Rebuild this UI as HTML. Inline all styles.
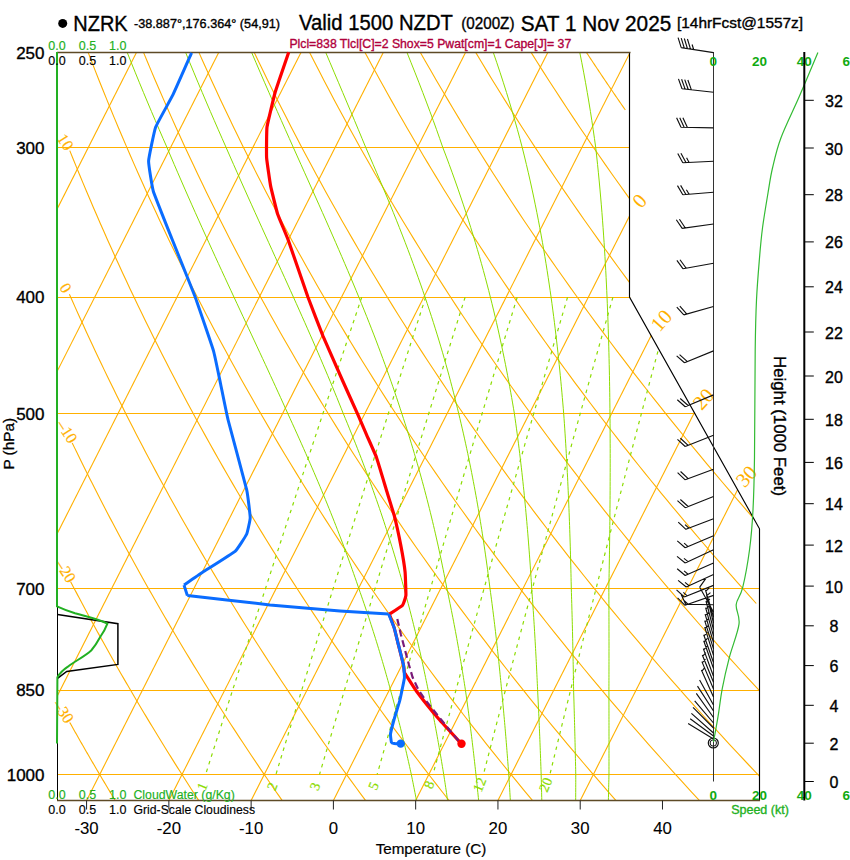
<!DOCTYPE html>
<html><head><meta charset="utf-8"><style>
html,body{margin:0;padding:0;background:#fff;width:850px;height:860px;overflow:hidden;position:relative;font-family:"Liberation Sans",sans-serif}
</style></head><body>
<svg width="850" height="860" viewBox="0 0 850 860" style="position:absolute;left:0;top:0">
<defs><clipPath id="cp"><polygon points="57.00,52.00 630.00,52.00 630.00,297.00 759.50,528.80 759.50,800.40 57.00,800.40"/></clipPath></defs>
<g clip-path="url(#cp)"><line x1="57" y1="52.50" x2="760" y2="52.50" stroke="#FFB000" stroke-width="1"/><line x1="57" y1="147.50" x2="760" y2="147.50" stroke="#FFB000" stroke-width="1"/><line x1="57" y1="297.50" x2="760" y2="297.50" stroke="#FFB000" stroke-width="1"/><line x1="57" y1="413.50" x2="760" y2="413.50" stroke="#FFB000" stroke-width="1"/><line x1="57" y1="588.50" x2="760" y2="588.50" stroke="#FFB000" stroke-width="1"/><line x1="57" y1="690.50" x2="760" y2="690.50" stroke="#FFB000" stroke-width="1"/><line x1="57" y1="774.50" x2="760" y2="774.50" stroke="#FFB000" stroke-width="1"/><line x1="-489.30" y1="800.40" x2="-110.36" y2="52.40" stroke="#FFB000" stroke-width="1.1"/><line x1="-407.03" y1="800.40" x2="-28.09" y2="52.40" stroke="#FFB000" stroke-width="1.1"/><line x1="-324.76" y1="800.40" x2="54.18" y2="52.40" stroke="#FFB000" stroke-width="1.1"/><line x1="-242.49" y1="800.40" x2="136.45" y2="52.40" stroke="#FFB000" stroke-width="1.1"/><line x1="-160.22" y1="800.40" x2="218.72" y2="52.40" stroke="#FFB000" stroke-width="1.1"/><line x1="-77.95" y1="800.40" x2="300.99" y2="52.40" stroke="#FFB000" stroke-width="1.1"/><line x1="4.32" y1="800.40" x2="383.26" y2="52.40" stroke="#FFB000" stroke-width="1.1"/><line x1="86.59" y1="800.40" x2="465.53" y2="52.40" stroke="#FFB000" stroke-width="1.1"/><line x1="168.86" y1="800.40" x2="547.80" y2="52.40" stroke="#FFB000" stroke-width="1.1"/><line x1="251.13" y1="800.40" x2="630.07" y2="52.40" stroke="#FFB000" stroke-width="1.1"/><line x1="333.40" y1="800.40" x2="712.34" y2="52.40" stroke="#FFB000" stroke-width="1.1"/><line x1="415.67" y1="800.40" x2="794.61" y2="52.40" stroke="#FFB000" stroke-width="1.1"/><line x1="497.94" y1="800.40" x2="876.88" y2="52.40" stroke="#FFB000" stroke-width="1.1"/><line x1="580.21" y1="800.40" x2="959.15" y2="52.40" stroke="#FFB000" stroke-width="1.1"/><polyline points="-244.04,52.40 -242.14,61.75 -240.21,71.10 -238.24,80.45 -236.23,89.80 -234.20,99.15 -232.13,108.50 -230.02,117.85 -227.88,127.20 -225.70,136.55 -223.48,145.90 -221.23,155.25 -218.95,164.60 -216.63,173.95 -214.27,183.30 -211.88,192.65 -209.45,202.00 -206.98,211.35 -204.47,220.70 -201.93,230.05 -199.35,239.40 -196.74,248.75 -194.08,258.10 -191.39,267.45 -188.66,276.80 -185.89,286.15 -183.08,295.50 -180.24,304.85 -177.35,314.20 -174.43,323.55 -171.46,332.90 -168.46,342.25 -165.41,351.60 -162.33,360.95 -159.21,370.30 -156.04,379.65 -152.84,389.00 -149.59,398.35 -146.31,407.70 -142.98,417.05 -139.61,426.40 -136.20,435.75 -132.74,445.10 -129.25,454.45 -125.71,463.80 -122.13,473.15 -118.51,482.50 -114.84,491.85 -111.13,501.20 -107.38,510.55 -103.59,519.90 -99.75,529.25 -95.86,538.60 -91.94,547.95 -87.96,557.30 -83.94,566.65 -79.88,576.00 -75.77,585.35 -71.62,594.70 -67.42,604.05 -63.18,613.40 -58.89,622.75 -54.55,632.10 -50.17,641.45 -45.73,650.80 -41.26,660.15 -36.73,669.50 -32.16,678.85 -27.54,688.20 -22.87,697.55 -18.15,706.90 -13.38,716.25 -8.57,725.60 -3.70,734.95 1.21,744.30 6.17,753.65 11.18,763.00 16.25,772.35 21.36,781.70 26.53,791.05 31.74,800.40" fill="none" stroke="#FFB000" stroke-width="1.1"/><polyline points="69.73,722.40 70.28,723.38 70.82,724.35 71.37,725.32 71.92,726.30 72.46,727.27 73.01,728.25 73.56,729.23 74.11,730.20 74.66,731.17 75.21,732.15 75.77,733.12 76.32,734.10 76.87,735.07 77.42,736.05 77.98,737.02 78.53,738.00 79.09,738.98 79.64,739.95 80.20,740.92 80.75,741.90 81.31,742.88 81.87,743.85 82.43,744.82 82.99,745.80 83.55,746.77 84.11,747.75 84.67,748.73 85.23,749.70 85.79,750.67 86.35,751.65 86.91,752.62 87.48,753.60 88.04,754.57 88.60,755.55 89.17,756.52 89.74,757.50 90.30,758.48 90.87,759.45 91.44,760.42 92.00,761.40 92.57,762.38 93.14,763.35 93.71,764.32 94.28,765.30 94.85,766.27 95.42,767.25 95.99,768.23 96.57,769.20 97.14,770.17 97.71,771.15 98.29,772.12 98.86,773.10 99.44,774.07 100.01,775.05 100.59,776.02 101.17,777.00 101.74,777.98 102.32,778.95 102.90,779.92 103.48,780.90 104.06,781.88 104.64,782.85 105.22,783.82 105.80,784.80 106.38,785.77 106.97,786.75 107.55,787.73 108.13,788.70 108.72,789.67 109.30,790.65 109.89,791.62 110.48,792.60 111.06,793.57 111.65,794.55 112.24,795.52 112.83,796.50 113.42,797.48 114.01,798.45 114.60,799.42 115.19,800.40" fill="none" stroke="#FFB000" stroke-width="1.1"/><polyline points="70.64,581.70 72.07,584.43 73.50,587.17 74.94,589.90 76.38,592.63 77.82,595.37 79.27,598.10 80.72,600.84 82.17,603.57 83.63,606.30 85.10,609.04 86.57,611.77 88.04,614.50 89.52,617.24 91.00,619.97 92.49,622.71 93.98,625.44 95.47,628.17 96.97,630.91 98.48,633.64 99.98,636.38 101.50,639.11 103.01,641.84 104.53,644.58 106.06,647.31 107.59,650.04 109.12,652.78 110.66,655.51 112.20,658.25 113.75,660.98 115.30,663.71 116.86,666.45 118.42,669.18 119.98,671.91 121.55,674.65 123.12,677.38 124.70,680.12 126.28,682.85 127.87,685.58 129.46,688.32 131.06,691.05 132.66,693.78 134.26,696.52 135.87,699.25 137.49,701.99 139.11,704.72 140.73,707.45 142.36,710.19 143.99,712.92 145.62,715.65 147.26,718.39 148.91,721.12 150.56,723.86 152.21,726.59 153.87,729.32 155.54,732.06 157.21,734.79 158.88,737.52 160.56,740.26 162.24,742.99 163.92,745.73 165.61,748.46 167.31,751.19 169.01,753.93 170.72,756.66 172.43,759.39 174.14,762.13 175.86,764.86 177.58,767.60 179.31,770.33 181.04,773.06 182.78,775.80 184.52,778.53 186.27,781.26 188.02,784.00 189.78,786.73 191.54,789.46 193.31,792.20 195.08,794.93 196.85,797.67 198.63,800.40" fill="none" stroke="#FFB000" stroke-width="1.1"/><polyline points="72.20,442.90 74.37,447.37 76.55,451.84 78.73,456.31 80.93,460.77 83.14,465.24 85.36,469.71 87.59,474.18 89.83,478.65 92.09,483.12 94.35,487.59 96.63,492.06 98.91,496.52 101.21,500.99 103.52,505.46 105.84,509.93 108.17,514.40 110.51,518.87 112.87,523.34 115.23,527.81 117.61,532.27 120.00,536.74 122.39,541.21 124.81,545.68 127.23,550.15 129.66,554.62 132.11,559.09 134.56,563.56 137.03,568.02 139.51,572.49 142.00,576.96 144.51,581.43 147.02,585.90 149.55,590.37 152.09,594.84 154.64,599.31 157.20,603.77 159.77,608.24 162.36,612.71 164.96,617.18 167.57,621.65 170.19,626.12 172.82,630.59 175.47,635.06 178.12,639.52 180.79,643.99 183.48,648.46 186.17,652.93 188.88,657.40 191.59,661.87 194.32,666.34 197.07,670.81 199.82,675.27 202.59,679.74 205.37,684.21 208.16,688.68 210.97,693.15 213.78,697.62 216.61,702.09 219.46,706.56 222.31,711.02 225.18,715.49 228.06,719.96 230.95,724.43 233.85,728.90 236.77,733.37 239.70,737.84 242.64,742.31 245.60,746.77 248.57,751.24 251.55,755.71 254.54,760.18 257.55,764.65 260.57,769.12 263.61,773.59 266.65,778.06 269.71,782.52 272.78,786.99 275.87,791.46 278.97,795.93 282.08,800.40" fill="none" stroke="#FFB000" stroke-width="1.1"/><polyline points="69.39,294.20 72.19,300.53 75.01,306.85 77.85,313.18 80.71,319.51 83.59,325.84 86.49,332.16 89.41,338.49 92.36,344.82 95.33,351.15 98.31,357.47 101.32,363.80 104.35,370.13 107.41,376.46 110.48,382.78 113.58,389.11 116.70,395.44 119.84,401.77 123.00,408.10 126.18,414.42 129.39,420.75 132.62,427.08 135.87,433.40 139.15,439.73 142.44,446.06 145.76,452.39 149.10,458.71 152.47,465.04 155.85,471.37 159.26,477.70 162.70,484.02 166.15,490.35 169.63,496.68 173.14,503.01 176.66,509.33 180.21,515.66 183.78,521.99 187.38,528.32 191.00,534.64 194.64,540.97 198.31,547.30 202.00,553.63 205.72,559.95 209.46,566.28 213.22,572.61 217.01,578.94 220.82,585.26 224.66,591.59 228.52,597.92 232.41,604.25 236.32,610.58 240.25,616.90 244.21,623.23 248.20,629.56 252.21,635.88 256.24,642.21 260.30,648.54 264.39,654.87 268.50,661.19 272.63,667.52 276.79,673.85 280.98,680.18 285.19,686.50 289.43,692.83 293.70,699.16 297.99,705.49 302.30,711.81 306.65,718.14 311.02,724.47 315.41,730.80 319.83,737.12 324.28,743.45 328.76,749.78 333.26,756.11 337.79,762.43 342.34,768.76 346.92,775.09 351.53,781.42 356.17,787.74 360.83,794.07 365.52,800.40" fill="none" stroke="#FFB000" stroke-width="1.1"/><polyline points="69.78,150.60 73.06,158.72 76.36,166.84 79.70,174.97 83.07,183.09 86.48,191.21 89.91,199.33 93.39,207.46 96.89,215.58 100.43,223.70 104.01,231.82 107.61,239.95 111.26,248.07 114.93,256.19 118.65,264.31 122.39,272.44 126.18,280.56 129.99,288.68 133.85,296.80 137.74,304.93 141.66,313.05 145.62,321.17 149.62,329.29 153.65,337.42 157.72,345.54 161.82,353.66 165.97,361.78 170.14,369.91 174.36,378.03 178.61,386.15 182.90,394.27 187.23,402.40 191.60,410.52 196.00,418.64 200.44,426.76 204.92,434.89 209.44,443.01 214.00,451.13 218.59,459.25 223.23,467.38 227.90,475.50 232.62,483.62 237.37,491.75 242.16,499.87 246.99,507.99 251.86,516.11 256.77,524.24 261.73,532.36 266.72,540.48 271.75,548.60 276.83,556.72 281.94,564.85 287.10,572.97 292.29,581.09 297.53,589.21 302.81,597.34 308.14,605.46 313.50,613.58 318.91,621.70 324.36,629.83 329.85,637.95 335.39,646.07 340.97,654.19 346.59,662.32 352.25,670.44 357.96,678.56 363.71,686.68 369.51,694.81 375.35,702.93 381.24,711.05 387.17,719.18 393.14,727.30 399.16,735.42 405.23,743.54 411.34,751.66 417.50,759.79 423.70,767.91 429.95,776.03 436.24,784.15 442.58,792.28 448.97,800.40" fill="none" stroke="#FFB000" stroke-width="1.1"/><polyline points="88.15,52.40 91.76,61.75 95.41,71.10 99.10,80.45 102.84,89.80 106.62,99.15 110.44,108.50 114.31,117.85 118.22,127.20 122.18,136.55 126.18,145.90 130.23,155.25 134.32,164.60 138.46,173.95 142.64,183.30 146.87,192.65 151.15,202.00 155.47,211.35 159.84,220.70 164.25,230.05 168.71,239.40 173.22,248.75 177.78,258.10 182.38,267.45 187.04,276.80 191.74,286.15 196.49,295.50 201.28,304.85 206.13,314.20 211.03,323.55 215.97,332.90 220.97,342.25 226.02,351.60 231.11,360.95 236.26,370.30 241.46,379.65 246.70,389.00 252.00,398.35 257.36,407.70 262.76,417.05 268.21,426.40 273.72,435.75 279.28,445.10 284.90,454.45 290.56,463.80 296.28,473.15 302.06,482.50 307.88,491.85 313.77,501.20 319.70,510.55 325.69,519.90 331.74,529.25 337.84,538.60 344.00,547.95 350.22,557.30 356.49,566.65 362.81,576.00 369.20,585.35 375.64,594.70 382.14,604.05 388.69,613.40 395.31,622.75 401.98,632.10 408.71,641.45 415.50,650.80 422.35,660.15 429.26,669.50 436.23,678.85 443.26,688.20 450.35,697.55 457.50,706.90 464.71,716.25 471.98,725.60 479.32,734.95 486.71,744.30 494.17,753.65 501.70,763.00 509.28,772.35 516.93,781.70 524.64,791.05 532.42,800.40" fill="none" stroke="#FFB000" stroke-width="1.1"/><polyline points="143.51,52.40 147.41,61.75 151.34,71.10 155.32,80.45 159.35,89.80 163.42,99.15 167.54,108.50 171.70,117.85 175.91,127.20 180.16,136.55 184.46,145.90 188.81,155.25 193.20,164.60 197.64,173.95 202.13,183.30 206.66,192.65 211.25,202.00 215.88,211.35 220.56,220.70 225.28,230.05 230.06,239.40 234.88,248.75 239.76,258.10 244.68,267.45 249.65,276.80 254.68,286.15 259.75,295.50 264.87,304.85 270.05,314.20 275.27,323.55 280.55,332.90 285.87,342.25 291.25,351.60 296.69,360.95 302.17,370.30 307.71,379.65 313.29,389.00 318.94,398.35 324.63,407.70 330.38,417.05 336.18,426.40 342.04,435.75 347.95,445.10 353.92,454.45 359.94,463.80 366.02,473.15 372.15,482.50 378.34,491.85 384.58,501.20 390.88,510.55 397.24,519.90 403.66,529.25 410.13,538.60 416.66,547.95 423.25,557.30 429.89,566.65 436.60,576.00 443.36,585.35 450.18,594.70 457.06,604.05 464.00,613.40 471.01,622.75 478.07,632.10 485.19,641.45 492.37,650.80 499.62,660.15 506.93,669.50 514.29,678.85 521.72,688.20 529.22,697.55 536.77,706.90 544.39,716.25 552.07,725.60 559.82,734.95 567.63,744.30 575.51,753.65 583.45,763.00 591.45,772.35 599.52,781.70 607.66,791.05 615.86,800.40" fill="none" stroke="#FFB000" stroke-width="1.1"/><polyline points="198.88,52.40 203.05,61.75 207.28,71.10 211.55,80.45 215.86,89.80 220.22,99.15 224.63,108.50 229.09,117.85 233.59,127.20 238.14,136.55 242.74,145.90 247.39,155.25 252.08,164.60 256.82,173.95 261.62,183.30 266.46,192.65 271.35,202.00 276.29,211.35 281.27,220.70 286.31,230.05 291.40,239.40 296.54,248.75 301.73,258.10 306.98,267.45 312.27,276.80 317.61,286.15 323.01,295.50 328.46,304.85 333.96,314.20 339.51,323.55 345.12,332.90 350.78,342.25 356.49,351.60 362.26,360.95 368.08,370.30 373.95,379.65 379.88,389.00 385.87,398.35 391.91,407.70 398.00,417.05 404.15,426.40 410.36,435.75 416.62,445.10 422.94,454.45 429.32,463.80 435.75,473.15 442.24,482.50 448.79,491.85 455.40,501.20 462.07,510.55 468.79,519.90 475.57,529.25 482.41,538.60 489.31,547.95 496.28,557.30 503.30,566.65 510.38,576.00 517.52,585.35 524.72,594.70 531.99,604.05 539.32,613.40 546.70,622.75 554.16,632.10 561.67,641.45 569.25,650.80 576.89,660.15 584.59,669.50 592.36,678.85 600.19,688.20 608.09,697.55 616.05,706.90 624.07,716.25 632.17,725.60 640.32,734.95 648.55,744.30 656.84,753.65 665.20,763.00 673.62,772.35 682.12,781.70 690.68,791.05 699.31,800.40" fill="none" stroke="#FFB000" stroke-width="1.1"/><polyline points="254.24,52.40 258.70,61.75 263.21,71.10 267.77,80.45 272.37,89.80 277.03,99.15 281.73,108.50 286.48,117.85 291.27,127.20 296.12,136.55 301.02,145.90 305.96,155.25 310.96,164.60 316.01,173.95 321.10,183.30 326.25,192.65 331.44,202.00 336.69,211.35 341.99,220.70 347.34,230.05 352.75,239.40 358.20,248.75 363.71,258.10 369.27,267.45 374.88,276.80 380.55,286.15 386.27,295.50 392.05,304.85 397.87,314.20 403.76,323.55 409.69,332.90 415.68,342.25 421.73,351.60 427.83,360.95 433.99,370.30 440.20,379.65 446.47,389.00 452.80,398.35 459.19,407.70 465.63,417.05 472.12,426.40 478.68,435.75 485.30,445.10 491.97,454.45 498.70,463.80 505.49,473.15 512.34,482.50 519.25,491.85 526.22,501.20 533.25,510.55 540.34,519.90 547.49,529.25 554.70,538.60 561.97,547.95 569.31,557.30 576.70,566.65 584.16,576.00 591.68,585.35 599.27,594.70 606.92,604.05 614.63,613.40 622.40,622.75 630.24,632.10 638.15,641.45 646.12,650.80 654.15,660.15 662.26,669.50 670.42,678.85 678.66,688.20 686.96,697.55 695.32,706.90 703.76,716.25 712.26,725.60 720.83,734.95 729.47,744.30 738.17,753.65 746.95,763.00 755.80,772.35 764.71,781.70 773.70,791.05 782.75,800.40" fill="none" stroke="#FFB000" stroke-width="1.1"/><polyline points="309.61,52.40 314.35,61.75 319.15,71.10 323.99,80.45 328.89,89.80 333.83,99.15 338.82,108.50 343.86,117.85 348.96,127.20 354.10,136.55 359.30,145.90 364.54,155.25 369.84,164.60 375.19,173.95 380.59,183.30 386.04,192.65 391.54,202.00 397.10,211.35 402.71,220.70 408.38,230.05 414.09,239.40 419.86,248.75 425.69,258.10 431.57,267.45 437.50,276.80 443.49,286.15 449.53,295.50 455.63,304.85 461.79,314.20 468.00,323.55 474.26,332.90 480.59,342.25 486.97,351.60 493.41,360.95 499.90,370.30 506.45,379.65 513.07,389.00 519.73,398.35 526.46,407.70 533.25,417.05 540.10,426.40 547.00,435.75 553.97,445.10 560.99,454.45 568.08,463.80 575.23,473.15 582.43,482.50 589.70,491.85 597.03,501.20 604.43,510.55 611.88,519.90 619.40,529.25 626.98,538.60 634.63,547.95 642.33,557.30 650.11,566.65 657.94,576.00 665.84,585.35 673.81,594.70 681.84,604.05 689.94,613.40 698.10,622.75 706.33,632.10 714.63,641.45 722.99,650.80 731.42,660.15 739.92,669.50 748.49,678.85 757.12,688.20 765.82,697.55 774.60,706.90 783.44,716.25 792.35,725.60 801.33,734.95 810.38,744.30 819.51,753.65 828.70,763.00 837.97,772.35 847.31,781.70 856.72,791.05 866.20,800.40" fill="none" stroke="#FFB000" stroke-width="1.1"/><polyline points="364.97,52.40 368.67,59.29 372.40,66.18 376.16,73.07 379.94,79.95 383.75,86.84 387.59,93.73 391.46,100.62 395.35,107.51 399.28,114.40 403.23,121.29 407.21,128.18 411.21,135.06 415.25,141.95 419.31,148.84 423.41,155.73 427.53,162.62 431.68,169.51 435.86,176.40 440.06,183.29 444.30,190.18 448.57,197.06 452.86,203.95 457.19,210.84 461.54,217.73 465.93,224.62 470.34,231.51 474.79,238.40 479.26,245.29 483.77,252.17 488.30,259.06 492.87,265.95 497.46,272.84 502.09,279.73 506.74,286.62 511.43,293.51 516.15,300.40 520.90,307.28 525.68,314.17 530.49,321.06 535.34,327.95 540.21,334.84 545.12,341.73 550.06,348.62 555.03,355.50 560.03,362.39 565.07,369.28 570.13,376.17 575.23,383.06 580.36,389.95 585.53,396.84 590.73,403.73 595.96,410.62 601.22,417.50 606.52,424.39 611.85,431.28 617.21,438.17 622.60,445.06 628.04,451.95 633.50,458.84 639.00,465.72 644.53,472.61 650.09,479.50 655.70,486.39 661.33,493.28 667.00,500.17 672.70,507.06 678.44,513.95 684.22,520.84 690.02,527.72 695.87,534.61 701.75,541.50 707.66,548.39 713.61,555.28 719.60,562.17 725.62,569.06 731.68,575.94 737.77,582.83 743.90,589.72 750.07,596.61 756.27,603.50" fill="none" stroke="#FFB000" stroke-width="1.1"/><polyline points="420.34,52.40 425.65,61.75 431.02,71.10 436.44,80.45 441.91,89.80 447.43,99.15 453.01,108.50 458.64,117.85 464.32,127.20 470.06,136.55 475.85,145.90 481.70,155.25 487.60,164.60 493.55,173.95 499.56,183.30 505.62,192.65 511.74,202.00 517.92,211.35 524.15,220.70 530.44,230.05 536.78,239.40 543.18,248.75 549.64,258.10 556.16,267.45 562.73,276.80 569.36,286.15 576.06,295.50 582.81,304.85 589.61,314.20 596.48,323.55 603.41,332.90 610.40,342.25 617.44,351.60 624.55,360.95 631.72,370.30 638.95,379.65 646.25,389.00 653.60,398.35 661.02,407.70 668.49,417.05 676.04,426.40 683.64,435.75 691.31,445.10 699.04,454.45 706.84,463.80 714.70,473.15 722.62,482.50 730.61,491.85 738.67,501.20 746.79,510.55 754.98,519.90 763.23,529.25 771.55,538.60 779.94,547.95 788.39,557.30 796.92,566.65 805.51,576.00 814.17,585.35 822.90,594.70 831.70,604.05 840.56,613.40 849.50,622.75 858.51,632.10 867.59,641.45 876.74,650.80 885.96,660.15 895.25,669.50 904.62,678.85 914.05,688.20 923.56,697.55 933.15,706.90 942.80,716.25 952.53,725.60 962.34,734.95 972.22,744.30 982.18,753.65 992.21,763.00 1002.31,772.35 1012.50,781.70 1022.76,791.05 1033.09,800.40" fill="none" stroke="#FFB000" stroke-width="1.1"/><polyline points="475.70,52.40 481.30,61.75 486.95,71.10 492.66,80.45 498.42,89.80 504.24,99.15 510.11,108.50 516.03,117.85 522.01,127.20 528.04,136.55 534.13,145.90 540.27,155.25 546.47,164.60 552.73,173.95 559.04,183.30 565.41,192.65 571.84,202.00 578.33,211.35 584.87,220.70 591.47,230.05 598.13,239.40 604.84,248.75 611.62,258.10 618.45,267.45 625.35,276.80 632.30,286.15 639.32,295.50 646.39,304.85 653.53,314.20 660.72,323.55 667.98,332.90 675.30,342.25 682.68,351.60 690.13,360.95 697.63,370.30 705.20,379.65 712.84,389.00 720.53,398.35 728.29,407.70 736.12,417.05 744.01,426.40 751.96,435.75 759.98,445.10 768.06,454.45 776.22,463.80 784.43,473.15 792.72,482.50 801.07,491.85 809.48,501.20 817.97,510.55 826.52,519.90 835.15,529.25 843.84,538.60 852.60,547.95 861.42,557.30 870.32,566.65 879.29,576.00 888.33,585.35 897.44,594.70 906.62,604.05 915.87,613.40 925.20,622.75 934.60,632.10 944.07,641.45 953.61,650.80 963.23,660.15 972.92,669.50 982.68,678.85 992.52,688.20 1002.43,697.55 1012.42,706.90 1022.49,716.25 1032.63,725.60 1042.84,734.95 1053.14,744.30 1063.51,753.65 1073.96,763.00 1084.49,772.35 1095.09,781.70 1105.78,791.05 1116.54,800.40" fill="none" stroke="#FFB000" stroke-width="1.1"/><polyline points="531.07,52.40 536.95,61.75 542.89,71.10 548.88,80.45 554.93,89.80 561.04,99.15 567.20,108.50 573.42,117.85 579.69,127.20 586.02,136.55 592.41,145.90 598.85,155.25 605.35,164.60 611.91,173.95 618.53,183.30 625.21,192.65 631.94,202.00 638.73,211.35 645.59,220.70 652.50,230.05 659.47,239.40 666.50,248.75 673.60,258.10 680.75,267.45 687.96,276.80 695.24,286.15 702.58,295.50 709.98,304.85 717.44,314.20 724.97,323.55 732.55,332.90 740.21,342.25 747.92,351.60 755.70,360.95 763.54,370.30 771.45,379.65 779.43,389.00 787.46,398.35 795.57,407.70 803.74,417.05 811.98,426.40 820.28,435.75 828.65,445.10 837.09,454.45 845.59,463.80 854.17,473.15 862.81,482.50 871.52,491.85 880.30,501.20 889.15,510.55 898.07,519.90 907.06,529.25 916.12,538.60 925.25,547.95 934.45,557.30 943.73,566.65 953.07,576.00 962.49,585.35 971.98,594.70 981.55,604.05 991.19,613.40 1000.90,622.75 1010.68,632.10 1020.55,641.45 1030.48,650.80 1040.49,660.15 1050.58,669.50 1060.74,678.85 1070.98,688.20 1081.30,697.55 1091.70,706.90 1102.17,716.25 1112.72,725.60 1123.35,734.95 1134.06,744.30 1144.84,753.65 1155.71,763.00 1166.66,772.35 1177.69,781.70 1188.79,791.05 1199.99,800.40" fill="none" stroke="#FFB000" stroke-width="1.1"/><polyline points="586.43,52.40 586.90,53.12 587.38,53.84 587.85,54.56 588.32,55.28 588.80,56.00 589.27,56.72 589.75,57.44 590.22,58.16 590.70,58.88 591.18,59.60 591.65,60.32 592.13,61.04 592.61,61.76 593.08,62.48 593.56,63.20 594.04,63.92 594.52,64.64 595.00,65.36 595.48,66.08 595.96,66.80 596.44,67.52 596.92,68.24 597.40,68.96 597.88,69.68 598.36,70.40 598.84,71.12 599.32,71.84 599.80,72.56 600.29,73.28 600.77,74.00 601.25,74.72 601.73,75.44 602.22,76.16 602.70,76.88 603.19,77.60 603.67,78.32 604.16,79.04 604.64,79.76 605.13,80.48 605.61,81.20 606.10,81.92 606.59,82.64 607.07,83.36 607.56,84.08 608.05,84.80 608.54,85.52 609.03,86.24 609.52,86.96 610.00,87.68 610.49,88.40 610.98,89.12 611.47,89.84 611.96,90.56 612.46,91.28 612.95,92.00 613.44,92.72 613.93,93.44 614.42,94.16 614.91,94.88 615.41,95.60 615.90,96.32 616.39,97.04 616.89,97.76 617.38,98.48 617.88,99.20 618.37,99.92 618.87,100.64 619.36,101.36 619.86,102.08 620.35,102.80 620.85,103.52 621.35,104.24 621.85,104.96 622.34,105.68 622.84,106.40 623.34,107.12 623.84,107.84 624.34,108.56 624.84,109.28 625.34,110.00" fill="none" stroke="#FFB000" stroke-width="1.1"/><polyline points="641.79,52.40 648.25,61.75 654.76,71.10 661.33,80.45 667.96,89.80 674.65,99.15 681.39,108.50 688.19,117.85 695.06,127.20 701.98,136.55 708.96,145.90 716.01,155.25 723.11,164.60 730.28,173.95 737.50,183.30 744.79,192.65 752.14,202.00 759.55,211.35 767.02,220.70 774.56,230.05 782.16,239.40 789.82,248.75 797.55,258.10 805.34,267.45 813.20,276.80 821.12,286.15 829.10,295.50 837.15,304.85 845.27,314.20 853.45,323.55 861.70,332.90 870.02,342.25 878.40,351.60 886.85,360.95 895.37,370.30 903.95,379.65 912.61,389.00 921.33,398.35 930.12,407.70 938.99,417.05 947.92,426.40 956.92,435.75 965.99,445.10 975.14,454.45 984.35,463.80 993.64,473.15 1003.00,482.50 1012.43,491.85 1021.93,501.20 1031.51,510.55 1041.16,519.90 1050.89,529.25 1060.69,538.60 1070.56,547.95 1080.51,557.30 1090.54,566.65 1100.64,576.00 1110.82,585.35 1121.07,594.70 1131.40,604.05 1141.81,613.40 1152.30,622.75 1162.86,632.10 1173.50,641.45 1184.23,650.80 1195.03,660.15 1205.91,669.50 1216.87,678.85 1227.92,688.20 1239.04,697.55 1250.24,706.90 1261.53,716.25 1272.90,725.60 1284.35,734.95 1295.89,744.30 1307.51,753.65 1319.21,763.00 1331.00,772.35 1342.87,781.70 1354.83,791.05 1366.88,800.40" fill="none" stroke="#FFB000" stroke-width="1.1"/><polyline points="697.16,52.40 703.90,61.75 710.70,71.10 717.55,80.45 724.47,89.80 731.45,99.15 738.49,108.50 745.58,117.85 752.74,127.20 759.96,136.55 767.24,145.90 774.58,155.25 781.99,164.60 789.46,173.95 796.99,183.30 804.58,192.65 812.24,202.00 819.96,211.35 827.74,220.70 835.59,230.05 843.50,239.40 851.48,248.75 859.53,258.10 867.64,267.45 875.81,276.80 884.05,286.15 892.36,295.50 900.74,304.85 909.18,314.20 917.69,323.55 926.27,332.90 934.92,342.25 943.64,351.60 952.42,360.95 961.28,370.30 970.20,379.65 979.20,389.00 988.26,398.35 997.40,407.70 1006.61,417.05 1015.89,426.40 1025.24,435.75 1034.66,445.10 1044.16,454.45 1053.73,463.80 1063.38,473.15 1073.09,482.50 1082.89,491.85 1092.75,501.20 1102.69,510.55 1112.71,519.90 1122.80,529.25 1132.97,538.60 1143.22,547.95 1153.54,557.30 1163.94,566.65 1174.42,576.00 1184.98,585.35 1195.61,594.70 1206.33,604.05 1217.12,613.40 1228.00,622.75 1238.95,632.10 1249.98,641.45 1261.10,650.80 1272.30,660.15 1283.58,669.50 1294.94,678.85 1306.38,688.20 1317.91,697.55 1329.52,706.90 1341.21,716.25 1352.99,725.60 1364.86,734.95 1376.81,744.30 1388.84,753.65 1400.97,763.00 1413.17,772.35 1425.47,781.70 1437.85,791.05 1450.32,800.40" fill="none" stroke="#FFB000" stroke-width="1.1"/><polyline points="752.52,52.40 759.55,61.75 766.63,71.10 773.78,80.45 780.98,89.80 788.25,99.15 795.58,108.50 802.97,117.85 810.42,127.20 817.94,136.55 825.52,145.90 833.16,155.25 840.87,164.60 848.64,173.95 856.47,183.30 864.37,192.65 872.34,202.00 880.37,211.35 888.46,220.70 896.62,230.05 904.85,239.40 913.14,248.75 921.50,258.10 929.93,267.45 938.43,276.80 946.99,286.15 955.62,295.50 964.33,304.85 973.10,314.20 981.94,323.55 990.84,332.90 999.82,342.25 1008.87,351.60 1018.00,360.95 1027.19,370.30 1036.45,379.65 1045.79,389.00 1055.20,398.35 1064.68,407.70 1074.23,417.05 1083.86,426.40 1093.56,435.75 1103.33,445.10 1113.19,454.45 1123.11,463.80 1133.11,473.15 1143.19,482.50 1153.34,491.85 1163.57,501.20 1173.87,510.55 1184.26,519.90 1194.72,529.25 1205.26,538.60 1215.88,547.95 1226.57,557.30 1237.35,566.65 1248.20,576.00 1259.14,585.35 1270.16,594.70 1281.25,604.05 1292.43,613.40 1303.69,622.75 1315.04,632.10 1326.46,641.45 1337.97,650.80 1349.56,660.15 1361.24,669.50 1373.00,678.85 1384.85,688.20 1396.78,697.55 1408.79,706.90 1420.90,716.25 1433.09,725.60 1445.36,734.95 1457.73,744.30 1470.18,753.65 1482.72,763.00 1495.35,772.35 1508.06,781.70 1520.87,791.05 1533.77,800.40" fill="none" stroke="#FFB000" stroke-width="1.1"/><polyline points="807.89,52.40 815.20,61.75 822.57,71.10 830.00,80.45 837.50,89.80 845.05,99.15 852.67,108.50 860.36,117.85 868.11,127.20 875.92,136.55 883.80,145.90 891.74,155.25 899.75,164.60 907.82,173.95 915.96,183.30 924.16,192.65 932.44,202.00 940.77,211.35 949.18,220.70 957.65,230.05 966.19,239.40 974.80,248.75 983.48,258.10 992.23,267.45 1001.04,276.80 1009.93,286.15 1018.89,295.50 1027.91,304.85 1037.01,314.20 1046.18,323.55 1055.42,332.90 1064.73,342.25 1074.11,351.60 1083.57,360.95 1093.10,370.30 1102.70,379.65 1112.38,389.00 1122.13,398.35 1131.95,407.70 1141.85,417.05 1151.83,426.40 1161.88,435.75 1172.01,445.10 1182.21,454.45 1192.49,463.80 1202.85,473.15 1213.28,482.50 1223.79,491.85 1234.39,501.20 1245.06,510.55 1255.80,519.90 1266.63,529.25 1277.54,538.60 1288.53,547.95 1299.60,557.30 1310.75,566.65 1321.99,576.00 1333.30,585.35 1344.70,594.70 1356.18,604.05 1367.75,613.40 1379.39,622.75 1391.13,632.10 1402.94,641.45 1414.84,650.80 1426.83,660.15 1438.91,669.50 1451.07,678.85 1463.31,688.20 1475.65,697.55 1488.07,706.90 1500.58,716.25 1513.18,725.60 1525.87,734.95 1538.64,744.30 1551.51,753.65 1564.47,763.00 1577.52,772.35 1590.66,781.70 1603.89,791.05 1617.22,800.40" fill="none" stroke="#FFB000" stroke-width="1.1"/><polyline points="863.25,52.40 870.85,61.75 878.50,71.10 886.22,80.45 894.01,89.80 901.86,99.15 909.77,108.50 917.75,117.85 925.79,127.20 933.90,136.55 942.08,145.90 950.32,155.25 958.63,164.60 967.00,173.95 975.44,183.30 983.96,192.65 992.53,202.00 1001.18,211.35 1009.90,220.70 1018.68,230.05 1027.54,239.40 1036.46,248.75 1045.46,258.10 1054.52,267.45 1063.66,276.80 1072.87,286.15 1082.15,295.50 1091.50,304.85 1100.92,314.20 1110.42,323.55 1119.99,332.90 1129.63,342.25 1139.35,351.60 1149.14,360.95 1159.01,370.30 1168.95,379.65 1178.97,389.00 1189.06,398.35 1199.23,407.70 1209.48,417.05 1219.80,426.40 1230.20,435.75 1240.68,445.10 1251.23,454.45 1261.87,463.80 1272.58,473.15 1283.38,482.50 1294.25,491.85 1305.20,501.20 1316.24,510.55 1327.35,519.90 1338.55,529.25 1349.83,538.60 1361.19,547.95 1372.63,557.30 1384.16,566.65 1395.77,576.00 1407.46,585.35 1419.24,594.70 1431.11,604.05 1443.06,613.40 1455.09,622.75 1467.21,632.10 1479.42,641.45 1491.72,650.80 1504.10,660.15 1516.57,669.50 1529.13,678.85 1541.78,688.20 1554.52,697.55 1567.34,706.90 1580.26,716.25 1593.27,725.60 1606.37,734.95 1619.56,744.30 1632.84,753.65 1646.22,763.00 1659.69,772.35 1673.25,781.70 1686.91,791.05 1700.66,800.40" fill="none" stroke="#FFB000" stroke-width="1.1"/><polyline points="918.62,52.40 926.50,61.75 934.44,71.10 942.45,80.45 950.52,89.80 958.66,99.15 966.86,108.50 975.14,117.85 983.47,127.20 991.88,136.55 1000.35,145.90 1008.90,155.25 1017.50,164.60 1026.18,173.95 1034.93,183.30 1043.75,192.65 1052.63,202.00 1061.59,211.35 1070.62,220.70 1079.71,230.05 1088.88,239.40 1098.12,248.75 1107.43,258.10 1116.82,267.45 1126.28,276.80 1135.81,286.15 1145.41,295.50 1155.09,304.85 1164.84,314.20 1174.66,323.55 1184.56,332.90 1194.54,342.25 1204.59,351.60 1214.72,360.95 1224.92,370.30 1235.20,379.65 1245.56,389.00 1255.99,398.35 1266.51,407.70 1277.10,417.05 1287.77,426.40 1298.52,435.75 1309.35,445.10 1320.26,454.45 1331.25,463.80 1342.32,473.15 1353.47,482.50 1364.70,491.85 1376.02,501.20 1387.42,510.55 1398.90,519.90 1410.46,529.25 1422.11,538.60 1433.84,547.95 1445.66,557.30 1457.56,566.65 1469.55,576.00 1481.63,585.35 1493.79,594.70 1506.03,604.05 1518.37,613.40 1530.79,622.75 1543.30,632.10 1555.90,641.45 1568.59,650.80 1581.37,660.15 1594.24,669.50 1607.19,678.85 1620.24,688.20 1633.38,697.55 1646.62,706.90 1659.94,716.25 1673.36,725.60 1686.87,734.95 1700.48,744.30 1714.18,753.65 1727.97,763.00 1741.86,772.35 1755.85,781.70 1769.93,791.05 1784.11,800.40" fill="none" stroke="#FFB000" stroke-width="1.1"/><polyline points="973.98,52.40 982.15,61.75 990.37,71.10 998.67,80.45 1007.03,89.80 1015.46,99.15 1023.96,108.50 1032.52,117.85 1041.16,127.20 1049.86,136.55 1058.63,145.90 1067.47,155.25 1076.38,164.60 1085.36,173.95 1094.42,183.30 1103.54,192.65 1112.73,202.00 1122.00,211.35 1131.34,220.70 1140.74,230.05 1150.23,239.40 1159.78,248.75 1169.41,258.10 1179.11,267.45 1188.89,276.80 1198.74,286.15 1208.67,295.50 1218.67,304.85 1228.75,314.20 1238.90,323.55 1249.13,332.90 1259.44,342.25 1269.83,351.60 1280.29,360.95 1290.83,370.30 1301.45,379.65 1312.15,389.00 1322.93,398.35 1333.78,407.70 1344.72,417.05 1355.74,426.40 1366.84,435.75 1378.02,445.10 1389.28,454.45 1400.63,463.80 1412.05,473.15 1423.56,482.50 1435.16,491.85 1446.84,501.20 1458.60,510.55 1470.45,519.90 1482.38,529.25 1494.40,538.60 1506.50,547.95 1518.69,557.30 1530.97,566.65 1543.34,576.00 1555.79,585.35 1568.33,594.70 1580.96,604.05 1593.68,613.40 1606.49,622.75 1619.39,632.10 1632.38,641.45 1645.46,650.80 1658.64,660.15 1671.90,669.50 1685.26,678.85 1698.71,688.20 1712.25,697.55 1725.89,706.90 1739.63,716.25 1753.45,725.60 1767.38,734.95 1781.40,744.30 1795.51,753.65 1809.72,763.00 1824.03,772.35 1838.44,781.70 1852.95,791.05 1867.55,800.40" fill="none" stroke="#FFB000" stroke-width="1.1"/><polyline points="1029.35,52.40 1037.79,61.75 1046.31,71.10 1054.89,80.45 1063.54,89.80 1072.26,99.15 1081.05,108.50 1089.91,117.85 1098.84,127.20 1107.84,136.55 1116.91,145.90 1126.05,155.25 1135.26,164.60 1144.55,173.95 1153.90,183.30 1163.33,192.65 1172.83,202.00 1182.41,211.35 1192.05,220.70 1201.78,230.05 1211.57,239.40 1221.44,248.75 1231.39,258.10 1241.41,267.45 1251.51,276.80 1261.68,286.15 1271.93,295.50 1282.26,304.85 1292.66,314.20 1303.15,323.55 1313.71,332.90 1324.35,342.25 1335.07,351.60 1345.86,360.95 1356.74,370.30 1367.70,379.65 1378.74,389.00 1389.86,398.35 1401.06,407.70 1412.34,417.05 1423.71,426.40 1435.16,435.75 1446.69,445.10 1458.31,454.45 1470.01,463.80 1481.79,473.15 1493.66,482.50 1505.61,491.85 1517.65,501.20 1529.78,510.55 1541.99,519.90 1554.29,529.25 1566.68,538.60 1579.16,547.95 1591.72,557.30 1604.37,566.65 1617.12,576.00 1629.95,585.35 1642.87,594.70 1655.89,604.05 1668.99,613.40 1682.19,622.75 1695.48,632.10 1708.86,641.45 1722.33,650.80 1735.90,660.15 1749.57,669.50 1763.32,678.85 1777.18,688.20 1791.12,697.55 1805.17,706.90 1819.31,716.25 1833.55,725.60 1847.88,734.95 1862.31,744.30 1876.85,753.65 1891.48,763.00 1906.21,772.35 1921.04,781.70 1935.97,791.05 1951.00,800.40" fill="none" stroke="#FFB000" stroke-width="1.1"/><polyline points="1084.71,52.40 1093.44,61.75 1102.25,71.10 1111.12,80.45 1120.06,89.80 1129.07,99.15 1138.15,108.50 1147.30,117.85 1156.52,127.20 1165.82,136.55 1175.19,145.90 1184.63,155.25 1194.14,164.60 1203.73,173.95 1213.39,183.30 1223.12,192.65 1232.93,202.00 1242.81,211.35 1252.77,220.70 1262.81,230.05 1272.92,239.40 1283.10,248.75 1293.37,258.10 1303.71,267.45 1314.12,276.80 1324.62,286.15 1335.19,295.50 1345.85,304.85 1356.58,314.20 1367.39,323.55 1378.28,332.90 1389.25,342.25 1400.30,351.60 1411.44,360.95 1422.65,370.30 1433.95,379.65 1445.33,389.00 1456.79,398.35 1468.34,407.70 1479.97,417.05 1491.68,426.40 1503.48,435.75 1515.36,445.10 1527.33,454.45 1539.38,463.80 1551.53,473.15 1563.75,482.50 1576.07,491.85 1588.47,501.20 1600.96,510.55 1613.54,519.90 1626.21,529.25 1638.97,538.60 1651.81,547.95 1664.75,557.30 1677.78,566.65 1690.90,576.00 1704.11,585.35 1717.42,594.70 1730.81,604.05 1744.30,613.40 1757.89,622.75 1771.57,632.10 1785.34,641.45 1799.21,650.80 1813.17,660.15 1827.23,669.50 1841.39,678.85 1855.64,688.20 1869.99,697.55 1884.44,706.90 1898.99,716.25 1913.64,725.60 1928.38,734.95 1943.23,744.30 1958.18,753.65 1973.23,763.00 1988.38,772.35 2003.63,781.70 2018.99,791.05 2034.45,800.40" fill="none" stroke="#FFB000" stroke-width="1.1"/><polyline points="1140.08,52.40 1149.09,61.75 1158.18,71.10 1167.34,80.45 1176.57,89.80 1185.87,99.15 1195.24,108.50 1204.69,117.85 1214.21,127.20 1223.80,136.55 1233.47,145.90 1243.21,155.25 1253.02,164.60 1262.91,173.95 1272.87,183.30 1282.91,192.65 1293.03,202.00 1303.22,211.35 1313.49,220.70 1323.84,230.05 1334.26,239.40 1344.76,248.75 1355.34,258.10 1366.00,267.45 1376.74,276.80 1387.56,286.15 1398.45,295.50 1409.43,304.85 1420.49,314.20 1431.63,323.55 1442.85,332.90 1454.16,342.25 1465.54,351.60 1477.01,360.95 1488.56,370.30 1500.20,379.65 1511.92,389.00 1523.72,398.35 1535.61,407.70 1547.59,417.05 1559.65,426.40 1571.80,435.75 1584.03,445.10 1596.35,454.45 1608.76,463.80 1621.26,473.15 1633.85,482.50 1646.52,491.85 1659.29,501.20 1672.14,510.55 1685.09,519.90 1698.12,529.25 1711.25,538.60 1724.47,547.95 1737.78,557.30 1751.19,566.65 1764.68,576.00 1778.27,585.35 1791.96,594.70 1805.74,604.05 1819.62,613.40 1833.59,622.75 1847.65,632.10 1861.82,641.45 1876.08,650.80 1890.44,660.15 1904.90,669.50 1919.45,678.85 1934.11,688.20 1948.86,697.55 1963.72,706.90 1978.67,716.25 1993.73,725.60 2008.89,734.95 2024.15,744.30 2039.51,753.65 2054.98,763.00 2070.55,772.35 2086.23,781.70 2102.01,791.05 2117.89,800.40" fill="none" stroke="#FFB000" stroke-width="1.1"/><polyline points="1195.44,52.40 1204.74,61.75 1214.12,71.10 1223.56,80.45 1233.08,89.80 1242.67,99.15 1252.34,108.50 1262.08,117.85 1271.89,127.20 1281.78,136.55 1291.74,145.90 1301.78,155.25 1311.90,164.60 1322.09,173.95 1332.36,183.30 1342.71,192.65 1353.13,202.00 1363.63,211.35 1374.21,220.70 1384.87,230.05 1395.61,239.40 1406.42,248.75 1417.32,258.10 1428.30,267.45 1439.36,276.80 1450.49,286.15 1461.72,295.50 1473.02,304.85 1484.40,314.20 1495.87,323.55 1507.42,332.90 1519.06,342.25 1530.78,351.60 1542.58,360.95 1554.47,370.30 1566.45,379.65 1578.51,389.00 1590.66,398.35 1602.89,407.70 1615.21,417.05 1627.62,426.40 1640.12,435.75 1652.70,445.10 1665.38,454.45 1678.14,463.80 1691.00,473.15 1703.94,482.50 1716.98,491.85 1730.10,501.20 1743.32,510.55 1756.63,519.90 1770.04,529.25 1783.53,538.60 1797.13,547.95 1810.81,557.30 1824.59,566.65 1838.47,576.00 1852.44,585.35 1866.50,594.70 1880.67,604.05 1894.93,613.40 1909.29,622.75 1923.74,632.10 1938.30,641.45 1952.95,650.80 1967.71,660.15 1982.56,669.50 1997.52,678.85 2012.57,688.20 2027.73,697.55 2042.99,706.90 2058.35,716.25 2073.82,725.60 2089.39,734.95 2105.07,744.30 2120.85,753.65 2136.73,763.00 2152.72,772.35 2168.82,781.70 2185.03,791.05 2201.34,800.40" fill="none" stroke="#FFB000" stroke-width="1.1"/><polyline points="1250.81,52.40 1260.39,61.75 1270.05,71.10 1279.78,80.45 1289.59,89.80 1299.47,99.15 1309.43,108.50 1319.47,117.85 1329.57,127.20 1339.76,136.55 1350.02,145.90 1360.36,155.25 1370.78,164.60 1381.27,173.95 1391.85,183.30 1402.50,192.65 1413.23,202.00 1424.04,211.35 1434.93,220.70 1445.90,230.05 1456.95,239.40 1468.08,248.75 1479.30,258.10 1490.59,267.45 1501.97,276.80 1513.43,286.15 1524.98,295.50 1536.61,304.85 1548.32,314.20 1560.12,323.55 1572.00,332.90 1583.96,342.25 1596.02,351.60 1608.16,360.95 1620.38,370.30 1632.70,379.65 1645.10,389.00 1657.59,398.35 1670.17,407.70 1682.83,417.05 1695.59,426.40 1708.44,435.75 1721.37,445.10 1734.40,454.45 1747.52,463.80 1760.73,473.15 1774.04,482.50 1787.43,491.85 1800.92,501.20 1814.50,510.55 1828.18,519.90 1841.95,529.25 1855.82,538.60 1869.78,547.95 1883.84,557.30 1898.00,566.65 1912.25,576.00 1926.60,585.35 1941.05,594.70 1955.59,604.05 1970.24,613.40 1984.98,622.75 1999.83,632.10 2014.78,641.45 2029.82,650.80 2044.97,660.15 2060.23,669.50 2075.58,678.85 2091.04,688.20 2106.60,697.55 2122.27,706.90 2138.04,716.25 2153.91,725.60 2169.90,734.95 2185.98,744.30 2202.18,753.65 2218.48,763.00 2234.89,772.35 2251.42,781.70 2268.04,791.05 2284.78,800.40" fill="none" stroke="#FFB000" stroke-width="1.1"/><polyline points="1306.17,52.40 1316.04,61.75 1325.99,71.10 1336.01,80.45 1346.10,89.80 1356.28,99.15 1366.53,108.50 1376.85,117.85 1387.26,127.20 1397.74,136.55 1408.30,145.90 1418.94,155.25 1429.66,164.60 1440.45,173.95 1451.33,183.30 1462.29,192.65 1473.33,202.00 1484.45,211.35 1495.65,220.70 1506.93,230.05 1518.29,239.40 1529.74,248.75 1541.27,258.10 1552.89,267.45 1564.59,276.80 1576.37,286.15 1588.24,295.50 1600.19,304.85 1612.23,314.20 1624.36,323.55 1636.57,332.90 1648.87,342.25 1661.26,351.60 1673.73,360.95 1686.30,370.30 1698.95,379.65 1711.69,389.00 1724.52,398.35 1737.44,407.70 1750.46,417.05 1763.56,426.40 1776.76,435.75 1790.05,445.10 1803.43,454.45 1816.90,463.80 1830.47,473.15 1844.13,482.50 1857.89,491.85 1871.74,501.20 1885.68,510.55 1899.73,519.90 1913.87,529.25 1928.10,538.60 1942.44,547.95 1956.87,557.30 1971.40,566.65 1986.03,576.00 2000.76,585.35 2015.59,594.70 2030.52,604.05 2045.55,613.40 2060.68,622.75 2075.92,632.10 2091.26,641.45 2106.70,650.80 2122.24,660.15 2137.89,669.50 2153.64,678.85 2169.50,688.20 2185.47,697.55 2201.54,706.90 2217.72,716.25 2234.00,725.60 2250.40,734.95 2266.90,744.30 2283.51,753.65 2300.23,763.00 2317.07,772.35 2334.01,781.70 2351.06,791.05 2368.23,800.40" fill="none" stroke="#FFB000" stroke-width="1.1"/><polyline points="127.19,52.40 131.31,62.72 135.40,72.83 139.46,82.75 143.48,92.49 147.47,102.05 151.43,111.43 155.36,120.65 159.25,129.71 163.11,138.62 166.95,147.37 170.59,155.98 174.21,164.45 177.80,172.79 181.36,180.99 184.89,189.07 188.38,197.02 191.85,204.85 195.29,212.57 198.69,220.17 202.06,227.67 205.41,235.06 208.72,242.34 211.99,249.53 215.24,256.61 218.45,263.61 221.63,270.51 224.78,277.32 227.89,284.04 230.98,290.67 234.02,297.22 237.04,303.70 240.02,310.09 242.96,316.40 245.88,322.64 248.75,328.80 251.60,334.90 254.41,340.92 257.18,346.87 259.92,352.76 262.63,358.58 265.30,364.33 267.93,370.03 270.53,375.66 273.10,381.23 275.63,386.74 278.12,392.20 280.58,397.59 283.01,402.94 285.40,408.23 287.76,413.46 290.14,418.64 292.48,423.78 294.79,428.86 297.06,433.89 299.30,438.88 301.51,443.81 303.68,448.70 305.82,453.55 307.93,458.35 310.00,463.11 312.04,467.82 314.05,472.49 316.03,477.12 317.98,481.71 319.90,486.26 321.78,490.77 323.64,495.24 325.46,499.68 327.26,504.07 329.03,508.43 330.76,512.75 332.47,517.04 334.16,521.29 335.81,525.51 337.44,529.70 339.04,533.85 340.61,537.96 342.16,542.05 343.69,546.10 345.18,550.13 346.66,554.12 348.11,558.08 349.53,562.01 350.94,565.91 352.31,569.78 353.67,573.63 355.01,577.45 356.32,581.23 357.61,584.99 358.88,588.73 360.19,592.44 361.47,596.12 362.74,599.77 363.99,603.40 365.22,607.01 366.43,610.59 367.62,614.14 368.79,617.68 369.94,621.18 371.07,624.67 372.19,628.13 373.29,631.57 374.37,634.98 375.44,638.38 376.49,641.75 377.52,645.10 378.54,648.43 379.54,651.73 380.53,655.02 381.50,658.29 382.46,661.53 383.41,664.76 384.34,667.96 385.25,671.15 386.15,674.31 387.04,677.46 387.92,680.59 388.78,683.70 389.63,686.79 390.47,689.86 391.32,692.92 392.14,695.96 392.96,698.98 393.77,701.98 394.56,704.96 395.35,707.93 396.12,710.88 396.89,713.82 397.64,716.74 398.38,719.64 399.11,722.52 399.83,725.39 400.55,728.25 401.25,731.09 401.94,733.91 402.63,736.72 403.30,739.51 403.97,742.29 404.63,745.05 405.27,747.80 405.92,750.54 406.55,753.26 407.17,755.96 407.79,758.65 408.40,761.33 409.00,764.00 409.59,766.65 410.18,769.29 410.76,771.91 411.33,774.52 411.86,777.12 412.39,779.70 412.91,782.28 413.42,784.84 413.93,787.38 414.43,789.92 414.92,792.44 415.41,794.95 415.90,797.45 416.37,799.94 416.84,802.41" fill="none" stroke="#8CDC00" stroke-width="1"/><polyline points="185.60,52.40 189.82,62.72 194.00,72.83 198.14,82.75 202.25,92.49 206.31,102.05 210.34,111.43 214.33,120.65 218.28,129.71 222.19,138.62 226.05,147.37 229.82,155.98 233.56,164.45 237.25,172.79 240.90,180.99 244.51,189.07 248.07,197.02 251.60,204.85 255.08,212.57 258.52,220.17 261.92,227.67 265.27,235.06 268.58,242.34 271.85,249.53 275.07,256.61 278.25,263.61 281.38,270.51 284.47,277.32 287.52,284.04 290.52,290.67 293.47,297.22 296.38,303.70 299.24,310.09 302.06,316.40 304.83,322.64 307.56,328.80 310.24,334.90 312.88,340.92 315.47,346.87 318.02,352.76 320.52,358.58 322.98,364.33 325.40,370.03 327.78,375.66 330.11,381.23 332.40,386.74 334.64,392.20 336.85,397.59 339.01,402.94 341.13,408.23 343.22,413.46 345.38,418.64 347.50,423.78 349.57,428.86 351.61,433.89 353.62,438.88 355.58,443.81 357.51,448.70 359.40,453.55 361.25,458.35 363.07,463.11 364.85,467.82 366.60,472.49 368.32,477.12 370.01,481.71 371.66,486.26 373.28,490.77 374.87,495.24 376.43,499.68 377.96,504.07 379.46,508.43 380.93,512.75 382.37,517.04 383.79,521.29 385.18,525.51 386.54,529.70 387.88,533.85 389.19,537.96 390.48,542.05 391.74,546.10 392.98,550.13 394.20,554.12 395.39,558.08 396.56,562.01 397.71,565.91 398.84,569.78 399.95,573.63 401.04,577.45 402.11,581.23 403.16,584.99 404.19,588.73 405.20,592.44 406.20,596.12 407.17,599.77 408.14,603.40 409.08,607.01 410.01,610.59 410.92,614.14 411.81,617.68 412.69,621.18 413.55,624.67 414.40,628.13 415.24,631.57 416.06,634.98 416.87,638.38 417.66,641.75 418.44,645.10 419.21,648.43 419.96,651.73 420.70,655.02 421.43,658.29 422.15,661.53 422.85,664.76 423.55,667.96 424.23,671.15 424.90,674.31 425.56,677.46 426.21,680.59 426.85,683.70 427.49,686.79 428.11,689.86 428.74,692.92 429.37,695.96 429.99,698.98 430.60,701.98 431.20,704.96 431.79,707.93 432.38,710.88 432.95,713.82 433.52,716.74 434.07,719.64 434.62,722.52 435.17,725.39 435.70,728.25 436.23,731.09 436.75,733.91 437.26,736.72 437.76,739.51 438.26,742.29 438.75,745.05 439.24,747.80 439.71,750.54 440.18,753.26 440.65,755.96 441.11,758.65 441.56,761.33 442.01,764.00 442.45,766.65 442.88,769.29 443.31,771.91 443.73,774.52 444.14,777.12 444.53,779.70 444.93,782.28 445.31,784.84 445.70,787.38 446.07,789.92 446.44,792.44 446.81,794.95 447.17,797.45 447.53,799.94 447.89,802.41" fill="none" stroke="#8CDC00" stroke-width="1"/><polyline points="251.62,52.40 256.04,62.72 260.40,72.83 264.70,82.75 268.95,92.49 273.15,102.05 277.29,111.43 281.38,120.65 285.40,129.71 289.38,138.62 293.29,147.37 297.15,155.98 300.94,164.45 304.68,172.79 308.36,180.99 311.98,189.07 315.54,197.02 319.03,204.85 322.46,212.57 325.84,220.17 329.15,227.67 332.40,235.06 335.58,242.34 338.71,249.53 341.77,256.61 344.78,263.61 347.72,270.51 350.60,277.32 353.42,284.04 356.18,290.67 358.89,297.22 361.53,303.70 364.12,310.09 366.65,316.40 369.12,322.64 371.54,328.80 373.91,334.90 376.22,340.92 378.47,346.87 380.68,352.76 382.83,358.58 384.94,364.33 386.99,370.03 389.00,375.66 390.96,381.23 392.88,386.74 394.74,392.20 396.57,397.59 398.35,402.94 400.09,408.23 401.79,413.46 403.49,418.64 405.16,423.78 406.79,428.86 408.38,433.89 409.93,438.88 411.45,443.81 412.93,448.70 414.37,453.55 415.79,458.35 417.17,463.11 418.52,467.82 419.83,472.49 421.12,477.12 422.38,481.71 423.61,486.26 424.81,490.77 425.99,495.24 427.14,499.68 428.26,504.07 429.36,508.43 430.43,512.75 431.48,517.04 432.50,521.29 433.51,525.51 434.49,529.70 435.45,533.85 436.39,537.96 437.31,542.05 438.21,546.10 439.09,550.13 439.95,554.12 440.79,558.08 441.62,562.01 442.43,565.91 443.22,569.78 443.99,573.63 444.75,577.45 445.49,581.23 446.22,584.99 446.93,588.73 447.72,592.44 448.50,596.12 449.25,599.77 450.00,603.40 450.73,607.01 451.45,610.59 452.15,614.14 452.85,617.68 453.53,621.18 454.19,624.67 454.85,628.13 455.49,631.57 456.13,634.98 456.75,638.38 457.36,641.75 457.96,645.10 458.55,648.43 459.13,651.73 459.70,655.02 460.26,658.29 460.82,661.53 461.36,664.76 461.89,667.96 462.42,671.15 462.93,674.31 463.44,677.46 463.94,680.59 464.43,683.70 464.91,686.79 465.39,689.86 465.83,692.92 466.26,695.96 466.68,698.98 467.10,701.98 467.51,704.96 467.91,707.93 468.31,710.88 468.70,713.82 469.09,716.74 469.46,719.64 469.84,722.52 470.20,725.39 470.56,728.25 470.92,731.09 471.27,733.91 471.62,736.72 471.96,739.51 472.29,742.29 472.62,745.05 472.94,747.80 473.26,750.54 473.58,753.26 473.89,755.96 474.20,758.65 474.50,761.33 474.80,764.00 475.09,766.65 475.38,769.29 475.66,771.91 475.94,774.52 476.22,777.12 476.50,779.70 476.77,782.28 477.04,784.84 477.30,787.38 477.56,789.92 477.82,792.44 478.08,794.95 478.33,797.45 478.57,799.94 478.82,802.41" fill="none" stroke="#8CDC00" stroke-width="1"/><polyline points="325.70,52.40 330.08,62.72 334.37,72.83 338.58,82.75 342.71,92.49 346.76,102.05 350.72,111.43 354.59,120.65 358.38,129.71 362.09,138.62 365.71,147.37 369.47,155.98 373.14,164.45 376.73,172.79 380.22,180.99 383.63,189.07 386.96,197.02 390.19,204.85 393.34,212.57 396.41,220.17 399.40,227.67 402.30,235.06 405.13,242.34 407.87,249.53 410.55,256.61 413.14,263.61 415.67,270.51 418.12,277.32 420.50,284.04 422.81,290.67 425.06,297.22 427.25,303.70 429.37,310.09 431.43,316.40 433.43,322.64 435.37,328.80 437.26,334.90 439.10,340.92 440.88,346.87 442.61,352.76 444.29,358.58 445.92,364.33 447.51,370.03 449.05,375.66 450.54,381.23 452.00,386.74 453.41,392.20 454.79,397.59 456.12,402.94 457.42,408.23 458.68,413.46 459.93,418.64 461.14,423.78 462.32,428.86 463.47,433.89 464.58,438.88 465.67,443.81 466.73,448.70 467.75,453.55 468.76,458.35 469.73,463.11 470.68,467.82 471.61,472.49 472.51,477.12 473.39,481.71 474.25,486.26 475.08,490.77 475.90,495.24 476.69,499.68 477.46,504.07 478.22,508.43 478.95,512.75 479.67,517.04 480.37,521.29 481.05,525.51 481.72,529.70 482.37,533.85 483.01,537.96 483.63,542.05 484.23,546.10 484.82,550.13 485.40,554.12 485.96,558.08 486.51,562.01 487.05,565.91 487.58,569.78 488.09,573.63 488.59,577.45 489.08,581.23 489.56,584.99 490.03,588.73 490.54,592.44 491.04,596.12 491.52,599.77 492.00,603.40 492.46,607.01 492.92,610.59 493.37,614.14 493.80,617.68 494.23,621.18 494.65,624.67 495.07,628.13 495.47,631.57 495.87,634.98 496.26,638.38 496.64,641.75 497.01,645.10 497.38,648.43 497.74,651.73 498.10,655.02 498.44,658.29 498.78,661.53 499.12,664.76 499.45,667.96 499.77,671.15 500.08,674.31 500.39,677.46 500.70,680.59 501.00,683.70 501.29,686.79 501.58,689.86 501.88,692.92 502.18,695.96 502.47,698.98 502.75,701.98 503.03,704.96 503.30,707.93 503.58,710.88 503.84,713.82 504.10,716.74 504.36,719.64 504.62,722.52 504.86,725.39 505.11,728.25 505.35,731.09 505.59,733.91 505.82,736.72 506.05,739.51 506.28,742.29 506.50,745.05 506.72,747.80 506.94,750.54 507.15,753.26 507.36,755.96 507.57,758.65 507.78,761.33 507.98,764.00 508.17,766.65 508.37,769.29 508.56,771.91 508.75,774.52 508.92,777.12 509.08,779.70 509.25,782.28 509.41,784.84 509.57,787.38 509.72,789.92 509.87,792.44 510.03,794.95 510.17,797.45 510.32,799.94 510.47,802.41" fill="none" stroke="#8CDC00" stroke-width="1"/><polyline points="406.94,52.40 411.09,62.72 415.11,72.83 419.00,82.75 422.76,92.49 426.40,102.05 429.91,111.43 433.30,120.65 436.57,129.71 439.73,138.62 442.76,147.37 446.04,155.98 449.19,164.45 452.24,172.79 455.18,180.99 458.02,189.07 460.76,197.02 463.40,204.85 465.95,212.57 468.41,220.17 470.78,227.67 473.07,235.06 475.27,242.34 477.40,249.53 479.46,256.61 481.44,263.61 483.36,270.51 485.21,277.32 486.99,284.04 488.72,290.67 490.39,297.22 491.99,303.70 493.55,310.09 495.05,316.40 496.51,322.64 497.91,328.80 499.27,334.90 500.59,340.92 501.86,346.87 503.09,352.76 504.29,358.58 505.44,364.33 506.56,370.03 507.64,375.66 508.69,381.23 509.71,386.74 510.70,392.20 511.66,397.59 512.58,402.94 513.48,408.23 514.36,413.46 515.10,418.64 515.82,423.78 516.52,428.86 517.20,433.89 517.85,438.88 518.49,443.81 519.10,448.70 519.70,453.55 520.28,458.35 520.84,463.11 521.38,467.82 521.91,472.49 522.42,477.12 522.91,481.71 523.39,486.26 523.86,490.77 524.31,495.24 524.75,499.68 525.17,504.07 525.58,508.43 525.98,512.75 526.37,517.04 526.75,521.29 527.12,525.51 527.47,529.70 527.82,533.85 528.15,537.96 528.48,542.05 528.79,546.10 529.10,550.13 529.40,554.12 529.69,558.08 529.97,562.01 530.25,565.91 530.51,569.78 530.77,573.63 531.02,577.45 531.27,581.23 531.50,584.99 531.73,588.73 532.00,592.44 532.27,596.12 532.53,599.77 532.78,603.40 533.02,607.01 533.26,610.59 533.50,614.14 533.72,617.68 533.95,621.18 534.16,624.67 534.38,628.13 534.58,631.57 534.79,634.98 534.98,638.38 535.18,641.75 535.37,645.10 535.55,648.43 535.73,651.73 535.91,655.02 536.08,658.29 536.25,661.53 536.41,664.76 536.57,667.96 536.73,671.15 536.88,674.31 537.03,677.46 537.18,680.59 537.32,683.70 537.46,686.79 537.60,689.86 537.75,692.92 537.90,695.96 538.05,698.98 538.20,701.98 538.34,704.96 538.48,707.93 538.62,710.88 538.76,713.82 538.89,716.74 539.02,719.64 539.15,722.52 539.27,725.39 539.39,728.25 539.51,731.09 539.63,733.91 539.75,736.72 539.86,739.51 539.97,742.29 540.08,745.05 540.19,747.80 540.29,750.54 540.40,753.26 540.50,755.96 540.60,758.65 540.70,761.33 540.79,764.00 540.89,766.65 540.98,769.29 541.07,771.91 541.16,774.52 541.23,777.12 541.30,779.70 541.36,782.28 541.43,784.84 541.49,787.38 541.55,789.92 541.61,792.44 541.67,794.95 541.73,797.45 541.79,799.94 541.84,802.41" fill="none" stroke="#8CDC00" stroke-width="1"/><polyline points="493.28,52.40 496.82,62.72 500.20,72.83 503.42,82.75 506.50,92.49 509.43,102.05 512.23,111.43 514.90,120.65 517.45,129.71 519.88,138.62 522.20,147.37 524.34,155.98 526.39,164.45 528.34,172.79 530.21,180.99 531.99,189.07 533.69,197.02 535.31,204.85 536.87,212.57 538.35,220.17 539.78,227.67 541.14,235.06 542.44,242.34 543.69,249.53 544.88,256.61 546.02,263.61 547.12,270.51 548.17,277.32 549.18,284.04 550.15,290.67 551.08,297.22 551.97,303.70 552.82,310.09 553.65,316.40 554.44,322.64 555.19,328.80 555.92,334.90 556.62,340.92 557.30,346.87 557.95,352.76 558.57,358.58 559.17,364.33 559.75,370.03 560.31,375.66 560.85,381.23 561.36,386.74 561.86,392.20 562.34,397.59 562.80,402.94 563.25,408.23 563.68,413.46 564.05,418.64 564.41,423.78 564.75,428.86 565.08,433.89 565.40,438.88 565.71,443.81 566.00,448.70 566.28,453.55 566.56,458.35 566.82,463.11 567.07,467.82 567.31,472.49 567.55,477.12 567.77,481.71 567.98,486.26 568.19,490.77 568.39,495.24 568.58,499.68 568.77,504.07 568.94,508.43 569.11,512.75 569.27,517.04 569.43,521.29 569.58,525.51 569.73,529.70 569.86,533.85 570.00,537.96 570.13,542.05 570.25,546.10 570.37,550.13 570.48,554.12 570.59,558.08 570.69,562.01 570.79,565.91 570.88,569.78 570.97,573.63 571.06,577.45 571.14,581.23 571.22,584.99 571.30,588.73 571.41,592.44 571.53,596.12 571.64,599.77 571.75,603.40 571.85,607.01 571.95,610.59 572.05,614.14 572.15,617.68 572.24,621.18 572.33,624.67 572.41,628.13 572.50,631.57 572.58,634.98 572.65,638.38 572.73,641.75 572.80,645.10 572.87,648.43 572.94,651.73 573.01,655.02 573.07,658.29 573.13,661.53 573.19,664.76 573.25,667.96 573.31,671.15 573.36,674.31 573.41,677.46 573.46,680.59 573.51,683.70 573.56,686.79 573.61,689.86 573.70,692.92 573.79,695.96 573.88,698.98 573.97,701.98 574.06,704.96 574.14,707.93 574.22,710.88 574.30,713.82 574.38,716.74 574.46,719.64 574.54,722.52 574.62,725.39 574.69,728.25 574.76,731.09 574.83,733.91 574.90,736.72 574.97,739.51 575.04,742.29 575.11,745.05 575.17,747.80 575.24,750.54 575.30,753.26 575.36,755.96 575.42,758.65 575.48,761.33 575.54,764.00 575.60,766.65 575.66,769.29 575.71,771.91 575.77,774.52 575.76,777.12 575.75,779.70 575.75,782.28 575.74,784.84 575.73,787.38 575.72,789.92 575.71,792.44 575.70,794.95 575.69,797.45 575.68,799.94 575.66,802.41" fill="none" stroke="#8CDC00" stroke-width="1"/><polyline points="579.78,52.40 581.83,62.72 583.75,72.83 585.57,82.75 587.27,92.49 588.89,102.05 590.41,111.43 591.84,120.65 593.20,129.71 594.48,138.62 595.69,147.37 596.65,155.98 597.56,164.45 598.40,172.79 599.20,180.99 599.95,189.07 600.65,197.02 601.32,204.85 601.94,212.57 602.52,220.17 603.07,227.67 603.59,235.06 604.08,242.34 604.53,249.53 604.96,256.61 605.36,263.61 605.74,270.51 606.10,277.32 606.43,284.04 606.74,290.67 607.03,297.22 607.31,303.70 607.56,310.09 607.80,316.40 608.03,322.64 608.23,328.80 608.43,334.90 608.61,340.92 608.77,346.87 608.93,352.76 609.07,358.58 609.20,364.33 609.33,370.03 609.44,375.66 609.54,381.23 609.63,386.74 609.72,392.20 609.79,397.59 609.86,402.94 609.92,408.23 609.98,413.46 610.02,418.64 610.07,423.78 610.10,428.86 610.13,433.89 610.15,438.88 610.17,443.81 610.19,448.70 610.19,453.55 610.20,458.35 610.20,463.11 610.19,467.82 610.18,472.49 610.17,477.12 610.15,481.71 610.13,486.26 610.11,490.77 610.08,495.24 610.05,499.68 610.02,504.07 609.98,508.43 609.95,512.75 609.91,517.04 609.86,521.29 609.82,525.51 609.77,529.70 609.72,533.85 609.67,537.96 609.61,542.05 609.56,546.10 609.50,550.13 609.44,554.12 609.38,558.08 609.32,562.01 609.25,565.91 609.19,569.78 609.12,573.63 609.05,577.45 608.98,581.23 608.91,584.99 608.84,588.73 608.86,592.44 608.88,596.12 608.90,599.77 608.91,603.40 608.93,607.01 608.94,610.59 608.95,614.14 608.96,617.68 608.97,621.18 608.98,624.67 608.98,628.13 608.99,631.57 608.99,634.98 608.99,638.38 609.00,641.75 609.00,645.10 609.00,648.43 608.99,651.73 608.99,655.02 608.99,658.29 608.99,661.53 608.98,664.76 608.98,667.96 608.97,671.15 608.96,674.31 608.96,677.46 608.95,680.59 608.94,683.70 608.93,686.79 608.92,689.86 608.93,692.92 608.94,695.96 608.95,698.98 608.95,701.98 608.96,704.96 608.96,707.93 608.97,710.88 608.97,713.82 608.98,716.74 608.98,719.64 608.99,722.52 608.99,725.39 608.99,728.25 608.99,731.09 608.99,733.91 609.00,736.72 609.00,739.51 609.00,742.29 609.00,745.05 609.00,747.80 609.00,750.54 608.99,753.26 608.99,755.96 608.99,758.65 608.99,761.33 608.99,764.00 608.98,766.65 608.98,769.29 608.98,771.91 608.97,774.52 608.92,777.12 608.86,779.70 608.80,782.28 608.74,784.84 608.68,787.38 608.62,789.92 608.56,792.44 608.50,794.95 608.45,797.45 608.39,799.94 608.30,802.41" fill="none" stroke="#8CDC00" stroke-width="1"/><polyline points="361.74,297.22 357.74,309.16 353.74,321.09 349.75,333.02 345.77,344.95 341.79,356.89 337.81,368.82 333.84,380.75 329.87,392.68 325.91,404.62 321.95,416.55 318.00,428.48 314.05,440.41 310.11,452.35 306.18,464.28 302.24,476.21 298.32,488.14 294.39,500.08 290.48,512.01 286.56,523.94 282.66,535.87 278.75,547.81 274.86,559.74 270.96,571.67 267.08,583.60 263.20,595.53 259.32,607.47 255.45,619.40 251.58,631.33 247.72,643.26 243.86,655.20 240.01,667.13 236.17,679.06 232.33,690.99 228.49,702.93 224.66,714.86 220.84,726.79 217.02,738.72 213.20,750.66 209.39,762.59 205.59,774.52" fill="none" stroke="#8CDC00" stroke-width="1.2" stroke-dasharray="3.5,4.5"/><polyline points="425.62,297.22 421.77,309.16 417.93,321.09 414.09,333.02 410.26,344.95 406.43,356.89 402.60,368.82 398.79,380.75 394.97,392.68 391.17,404.62 387.36,416.55 383.57,428.48 379.78,440.41 375.99,452.35 372.21,464.28 368.43,476.21 364.66,488.14 360.90,500.08 357.14,512.01 353.39,523.94 349.64,535.87 345.90,547.81 342.17,559.74 338.44,571.67 334.71,583.60 330.99,595.53 327.28,607.47 323.57,619.40 319.87,631.33 316.17,643.26 312.48,655.20 308.80,667.13 305.12,679.06 301.45,690.99 297.78,702.93 294.12,714.86 290.47,726.79 286.82,738.72 283.18,750.66 279.54,762.59 275.91,774.52" fill="none" stroke="#8CDC00" stroke-width="1.2" stroke-dasharray="3.5,4.5"/><polyline points="465.11,297.22 461.35,309.16 457.60,321.09 453.86,333.02 450.12,344.95 446.39,356.89 442.66,368.82 438.94,380.75 435.23,392.68 431.52,404.62 427.81,416.55 424.11,428.48 420.42,440.41 416.74,452.35 413.06,464.28 409.38,476.21 405.71,488.14 402.05,500.08 398.39,512.01 394.74,523.94 391.10,535.87 387.46,547.81 383.82,559.74 380.20,571.67 376.58,583.60 372.96,595.53 369.35,607.47 365.75,619.40 362.15,631.33 358.56,643.26 354.98,655.20 351.40,667.13 347.83,679.06 344.26,690.99 340.71,702.93 337.15,714.86 333.61,726.79 330.07,738.72 326.53,750.66 323.01,762.59 319.49,774.52" fill="none" stroke="#8CDC00" stroke-width="1.2" stroke-dasharray="3.5,4.5"/><polyline points="517.20,297.22 513.57,309.16 509.95,321.09 506.34,333.02 502.73,344.95 499.13,356.89 495.54,368.82 491.95,380.75 488.36,392.68 484.79,404.62 481.22,416.55 477.65,428.48 474.09,440.41 470.54,452.35 467.00,464.28 463.46,476.21 459.93,488.14 456.40,500.08 452.88,512.01 449.37,523.94 445.86,535.87 442.36,547.81 438.87,559.74 435.38,571.67 431.90,583.60 428.42,595.53 424.96,607.47 421.50,619.40 418.04,631.33 414.59,643.26 411.15,655.20 407.72,667.13 404.29,679.06 400.87,690.99 397.46,702.93 394.05,714.86 390.66,726.79 387.26,738.72 383.88,750.66 380.50,762.59 377.13,774.52" fill="none" stroke="#8CDC00" stroke-width="1.2" stroke-dasharray="3.5,4.5"/><polyline points="567.54,297.22 564.05,309.16 560.55,321.09 557.07,333.02 553.59,344.95 550.12,356.89 546.65,368.82 543.20,380.75 539.74,392.68 536.30,404.62 532.86,416.55 529.43,428.48 526.00,440.41 522.59,452.35 519.18,464.28 515.77,476.21 512.37,488.14 508.98,500.08 505.60,512.01 502.22,523.94 498.85,535.87 495.49,547.81 492.14,559.74 488.79,571.67 485.45,583.60 482.11,595.53 478.79,607.47 475.47,619.40 472.16,631.33 468.85,643.26 465.55,655.20 462.26,667.13 458.98,679.06 455.71,690.99 452.44,702.93 449.18,714.86 445.93,726.79 442.68,738.72 439.44,750.66 436.21,762.59 432.99,774.52" fill="none" stroke="#8CDC00" stroke-width="1.2" stroke-dasharray="3.5,4.5"/><polyline points="612.88,297.22 609.50,309.16 606.12,321.09 602.76,333.02 599.40,344.95 596.04,356.89 592.70,368.82 589.36,380.75 586.03,392.68 582.71,404.62 579.39,416.55 576.08,428.48 572.78,440.41 569.49,452.35 566.20,464.28 562.92,476.21 559.65,488.14 556.38,500.08 553.13,512.01 549.88,523.94 546.63,535.87 543.40,547.81 540.17,559.74 536.95,571.67 533.74,583.60 530.54,595.53 527.34,607.47 524.15,619.40 520.97,631.33 517.80,643.26 514.63,655.20 511.47,667.13 508.33,679.06 505.18,690.99 502.05,702.93 498.93,714.86 495.81,726.79 492.70,738.72 489.60,750.66 486.50,762.59 483.42,774.52" fill="none" stroke="#8CDC00" stroke-width="1.2" stroke-dasharray="3.5,4.5"/><polyline points="672.46,297.22 669.24,309.16 666.03,321.09 662.82,333.02 659.62,344.95 656.43,356.89 653.25,368.82 650.07,380.75 646.91,392.68 643.75,404.62 640.60,416.55 637.45,428.48 634.32,440.41 631.19,452.35 628.07,464.28 624.96,476.21 621.86,488.14 618.76,500.08 615.67,512.01 612.60,523.94 609.52,535.87 606.46,547.81 603.41,559.74 600.36,571.67 597.33,583.60 594.30,595.53 591.28,607.47 588.26,619.40 585.26,631.33 582.27,643.26 579.28,655.20 576.30,667.13 573.33,679.06 570.37,690.99 567.42,702.93 564.48,714.86 561.55,726.79 558.62,738.72 555.70,750.66 552.80,762.59 549.90,774.52" fill="none" stroke="#8CDC00" stroke-width="1.2" stroke-dasharray="3.5,4.5"/></g>
<text x="0" y="0" font-size="16" fill="#FFB000" stroke="#FFB000" stroke-width="0.2" text-anchor="middle" dominant-baseline="central" font-family="Liberation Serif, serif" transform="translate(65.50,142.00) rotate(57)">10</text>
<text x="0" y="0" font-size="16" fill="#FFB000" stroke="#FFB000" stroke-width="0.2" text-anchor="middle" dominant-baseline="central" font-family="Liberation Serif, serif" transform="translate(65.90,287.90) rotate(57)">0</text>
<text x="0" y="0" font-size="16" fill="#FFB000" stroke="#FFB000" stroke-width="0.2" text-anchor="middle" dominant-baseline="central" font-family="Liberation Serif, serif" transform="translate(67.20,431.50) rotate(57)">&#8211;10</text>
<text x="0" y="0" font-size="16" fill="#FFB000" stroke="#FFB000" stroke-width="0.2" text-anchor="middle" dominant-baseline="central" font-family="Liberation Serif, serif" transform="translate(65.80,571.00) rotate(57)">&#8211;20</text>
<text x="0" y="0" font-size="16" fill="#FFB000" stroke="#FFB000" stroke-width="0.2" text-anchor="middle" dominant-baseline="central" font-family="Liberation Serif, serif" transform="translate(63.60,711.50) rotate(57)">&#8211;30</text>
<text x="0" y="0" font-size="20.5" fill="#FFB000" stroke="#FFB000" stroke-width="0" text-anchor="middle" dominant-baseline="central" font-family="Liberation Serif, serif" transform="translate(639.40,200.70) rotate(-48)">0</text>
<text x="0" y="0" font-size="20.5" fill="#FFB000" stroke="#FFB000" stroke-width="0" text-anchor="middle" dominant-baseline="central" font-family="Liberation Serif, serif" transform="translate(661.20,320.40) rotate(-48)">10</text>
<text x="0" y="0" font-size="20.5" fill="#FFB000" stroke="#FFB000" stroke-width="0" text-anchor="middle" dominant-baseline="central" font-family="Liberation Serif, serif" transform="translate(703.40,399.00) rotate(-48)">20</text>
<text x="0" y="0" font-size="20.5" fill="#FFB000" stroke="#FFB000" stroke-width="0" text-anchor="middle" dominant-baseline="central" font-family="Liberation Serif, serif" transform="translate(746.40,476.20) rotate(-48)">30</text>
<text x="0" y="0" font-size="14" fill="#8CDC00" stroke="#8CDC00" stroke-width="0.2" text-anchor="middle" dominant-baseline="central" font-family="Liberation Serif, serif" transform="translate(202.40,786.50) rotate(-68)">1</text>
<text x="0" y="0" font-size="14" fill="#8CDC00" stroke="#8CDC00" stroke-width="0.2" text-anchor="middle" dominant-baseline="central" font-family="Liberation Serif, serif" transform="translate(272.40,786.50) rotate(-68)">2</text>
<text x="0" y="0" font-size="14" fill="#8CDC00" stroke="#8CDC00" stroke-width="0.2" text-anchor="middle" dominant-baseline="central" font-family="Liberation Serif, serif" transform="translate(315.20,786.50) rotate(-68)">3</text>
<text x="0" y="0" font-size="14" fill="#8CDC00" stroke="#8CDC00" stroke-width="0.2" text-anchor="middle" dominant-baseline="central" font-family="Liberation Serif, serif" transform="translate(373.60,786.00) rotate(-68)">5</text>
<text x="0" y="0" font-size="14" fill="#8CDC00" stroke="#8CDC00" stroke-width="0.2" text-anchor="middle" dominant-baseline="central" font-family="Liberation Serif, serif" transform="translate(429.20,784.80) rotate(-68)">8</text>
<text x="0" y="0" font-size="14" fill="#8CDC00" stroke="#8CDC00" stroke-width="0.2" text-anchor="middle" dominant-baseline="central" font-family="Liberation Serif, serif" transform="translate(479.80,784.80) rotate(-68)">12</text>
<text x="0" y="0" font-size="14" fill="#8CDC00" stroke="#8CDC00" stroke-width="0.2" text-anchor="middle" dominant-baseline="central" font-family="Liberation Serif, serif" transform="translate(545.80,784.80) rotate(-68)">20</text>
<line x1="57.5" y1="52" x2="57.5" y2="800.4" stroke="#000" stroke-width="1"/>
<polyline points="629.50,52.00 629.50,297.00 759.50,528.80 759.50,800.40" fill="none" stroke="#000" stroke-width="1.15"/>
<line x1="57" y1="52.5" x2="630.5" y2="52.5" stroke="#5e4a26" stroke-width="1.3"/>
<line x1="57" y1="800.5" x2="760" y2="800.5" stroke="#5e4a26" stroke-width="1.3"/>
<line x1="86.59" y1="800.5" x2="86.59" y2="809.5" stroke="#222" stroke-width="1"/>
<text x="86.59" y="833.70" font-size="16.80" fill="#000" stroke="#000" stroke-width="0.10" text-anchor="middle" font-family="Liberation Sans, sans-serif" >-30</text>
<line x1="168.86" y1="800.5" x2="168.86" y2="809.5" stroke="#222" stroke-width="1"/>
<text x="168.86" y="833.70" font-size="16.80" fill="#000" stroke="#000" stroke-width="0.10" text-anchor="middle" font-family="Liberation Sans, sans-serif" >-20</text>
<line x1="251.13" y1="800.5" x2="251.13" y2="809.5" stroke="#222" stroke-width="1"/>
<text x="251.13" y="833.70" font-size="16.80" fill="#000" stroke="#000" stroke-width="0.10" text-anchor="middle" font-family="Liberation Sans, sans-serif" >-10</text>
<line x1="333.40" y1="800.5" x2="333.40" y2="809.5" stroke="#222" stroke-width="1"/>
<text x="333.40" y="833.70" font-size="16.80" fill="#000" stroke="#000" stroke-width="0.10" text-anchor="middle" font-family="Liberation Sans, sans-serif" >0</text>
<line x1="415.67" y1="800.5" x2="415.67" y2="809.5" stroke="#222" stroke-width="1"/>
<text x="415.67" y="833.70" font-size="16.80" fill="#000" stroke="#000" stroke-width="0.10" text-anchor="middle" font-family="Liberation Sans, sans-serif" >10</text>
<line x1="497.94" y1="800.5" x2="497.94" y2="809.5" stroke="#222" stroke-width="1"/>
<text x="497.94" y="833.70" font-size="16.80" fill="#000" stroke="#000" stroke-width="0.10" text-anchor="middle" font-family="Liberation Sans, sans-serif" >20</text>
<line x1="580.21" y1="800.5" x2="580.21" y2="809.5" stroke="#222" stroke-width="1"/>
<text x="580.21" y="833.70" font-size="16.80" fill="#000" stroke="#000" stroke-width="0.10" text-anchor="middle" font-family="Liberation Sans, sans-serif" >30</text>
<line x1="662.48" y1="800.5" x2="662.48" y2="809.5" stroke="#222" stroke-width="1"/>
<text x="662.48" y="833.70" font-size="16.80" fill="#000" stroke="#000" stroke-width="0.10" text-anchor="middle" font-family="Liberation Sans, sans-serif" >40</text>
<text x="44.50" y="58.60" font-size="17.00" fill="#000" stroke="#000" stroke-width="0.35" text-anchor="end" font-family="Liberation Sans, sans-serif" >250</text>
<text x="44.50" y="153.57" font-size="17.00" fill="#000" stroke="#000" stroke-width="0.35" text-anchor="end" font-family="Liberation Sans, sans-serif" >300</text>
<text x="44.50" y="303.42" font-size="17.00" fill="#000" stroke="#000" stroke-width="0.35" text-anchor="end" font-family="Liberation Sans, sans-serif" >400</text>
<text x="44.50" y="419.66" font-size="17.00" fill="#000" stroke="#000" stroke-width="0.35" text-anchor="end" font-family="Liberation Sans, sans-serif" >500</text>
<text x="44.50" y="594.93" font-size="17.00" fill="#000" stroke="#000" stroke-width="0.35" text-anchor="end" font-family="Liberation Sans, sans-serif" >700</text>
<text x="44.50" y="696.06" font-size="17.00" fill="#000" stroke="#000" stroke-width="0.35" text-anchor="end" font-family="Liberation Sans, sans-serif" >850</text>
<text x="44.50" y="780.72" font-size="17.00" fill="#000" stroke="#000" stroke-width="0.35" text-anchor="end" font-family="Liberation Sans, sans-serif" >1000</text>
<text x="431.00" y="854.10" font-size="14.50" fill="#000" stroke="#000" stroke-width="0.20" text-anchor="middle" font-family="Liberation Sans, sans-serif" textLength="110.70" lengthAdjust="spacingAndGlyphs" >Temperature (C)</text>
<text x="0" y="0" font-size="15.3" fill="#000" stroke="#000" stroke-width="0.3" text-anchor="middle" font-family="Liberation Sans, sans-serif" transform="translate(13.8,443.8) rotate(-90)">P (hPa)</text>
<polyline points="57.50,614.40 117.90,623.70 117.90,664.40 66.70,671.40 57.50,678.40" fill="none" stroke="#000" stroke-width="1.5"/>
<path d="M57,52 L57,606.3 C63,609 68,611 75,613.3 C88,617 100,619.5 107.4,623.7 C105,630 103,633 100.5,636.5 C97,643 95,646 91.2,650.5 C84,657 75,661 67.9,666.7 C63,670 60,673 57.4,677.2 L57,743.5" fill="none" stroke="#22B022" stroke-width="2"/>
<text x="57.00" y="50.00" font-size="12.50" fill="#22B022" stroke="#22B022" stroke-width="0.15" text-anchor="middle" font-family="Liberation Sans, sans-serif" >0.0</text>
<text x="57.00" y="64.50" font-size="12.50" fill="#000" stroke="#000" stroke-width="0.15" text-anchor="middle" font-family="Liberation Sans, sans-serif" >0.0</text>
<text x="57.00" y="799.30" font-size="12.50" fill="#22B022" stroke="#22B022" stroke-width="0.15" text-anchor="middle" font-family="Liberation Sans, sans-serif" >0.0</text>
<text x="57.00" y="813.60" font-size="12.50" fill="#000" stroke="#000" stroke-width="0.15" text-anchor="middle" font-family="Liberation Sans, sans-serif" >0.0</text>
<text x="87.50" y="50.00" font-size="12.50" fill="#22B022" stroke="#22B022" stroke-width="0.15" text-anchor="middle" font-family="Liberation Sans, sans-serif" >0.5</text>
<text x="87.50" y="64.50" font-size="12.50" fill="#000" stroke="#000" stroke-width="0.15" text-anchor="middle" font-family="Liberation Sans, sans-serif" >0.5</text>
<text x="87.50" y="799.30" font-size="12.50" fill="#22B022" stroke="#22B022" stroke-width="0.15" text-anchor="middle" font-family="Liberation Sans, sans-serif" >0.5</text>
<text x="87.50" y="813.60" font-size="12.50" fill="#000" stroke="#000" stroke-width="0.15" text-anchor="middle" font-family="Liberation Sans, sans-serif" >0.5</text>
<text x="117.80" y="50.00" font-size="12.50" fill="#22B022" stroke="#22B022" stroke-width="0.15" text-anchor="middle" font-family="Liberation Sans, sans-serif" >1.0</text>
<text x="117.80" y="64.50" font-size="12.50" fill="#000" stroke="#000" stroke-width="0.15" text-anchor="middle" font-family="Liberation Sans, sans-serif" >1.0</text>
<text x="117.80" y="799.30" font-size="12.50" fill="#22B022" stroke="#22B022" stroke-width="0.15" text-anchor="middle" font-family="Liberation Sans, sans-serif" >1.0</text>
<text x="117.80" y="813.60" font-size="12.50" fill="#000" stroke="#000" stroke-width="0.15" text-anchor="middle" font-family="Liberation Sans, sans-serif" >1.0</text>
<text x="133.50" y="799.30" font-size="12.50" fill="#22B022" stroke="#22B022" stroke-width="0.15" text-anchor="start" font-family="Liberation Sans, sans-serif" textLength="101.30" lengthAdjust="spacingAndGlyphs" >CloudWater (g/Kg)</text>
<text x="133.50" y="813.60" font-size="12.50" fill="#000" stroke="#000" stroke-width="0.15" text-anchor="start" font-family="Liberation Sans, sans-serif" textLength="121.50" lengthAdjust="spacingAndGlyphs" >Grid-Scale Cloudiness</text>
<path d="M288.70,52.20 C288.03,54.18 276.38,88.06 275.30,91.80 C274.22,95.54 267.44,123.71 267.00,127.00 C266.56,130.29 266.42,154.66 266.60,157.60 C266.78,160.54 270.05,183.08 270.60,185.90 C271.15,188.72 276.72,211.29 277.60,214.00 C278.48,216.71 286.69,235.85 288.20,240.00 C289.71,244.15 306.16,292.20 307.90,297.00 C309.63,301.80 321.18,331.75 322.90,335.90 C324.62,340.05 340.54,376.04 342.30,380.00 C344.06,383.96 356.89,412.45 358.10,415.20 C359.31,417.94 365.68,432.78 366.60,434.90 C367.52,437.01 375.51,454.75 376.50,457.50 C377.49,460.25 385.50,487.06 386.40,490.00 C387.29,492.94 393.67,513.41 394.40,516.20 C395.12,519.00 400.36,543.10 400.90,545.90 C401.44,548.70 404.85,569.73 405.10,572.20 C405.35,574.67 406.02,593.65 405.90,595.30 C405.77,596.95 403.43,604.25 402.60,605.20 C401.78,606.15 390.06,613.75 389.40,614.20 M389.40,614.20 C389.64,614.88 393.77,626.47 394.20,627.90 C394.62,629.33 397.44,640.94 397.90,642.80 C398.36,644.66 403.18,663.61 403.50,665.10 C403.82,666.59 404.35,672.23 404.40,672.60 M404.40,672.60 C405.00,673.53 414.78,688.88 416.50,691.20 C418.22,693.52 436.55,716.37 438.80,719.00 C441.05,721.63 460.37,742.56 461.50,743.80" fill="none" stroke="#FF0000" stroke-width="3.2" stroke-linejoin="round"/>
<path d="M191.60,52.80 C190.67,54.89 174.80,90.98 173.00,94.70 C171.20,98.42 156.82,123.89 155.60,127.20 C154.38,130.52 148.72,157.80 148.60,161.00 C148.48,164.20 152.14,187.31 153.30,191.20 C154.47,195.09 169.82,233.55 171.90,238.80 C173.98,244.06 192.82,290.69 194.90,296.30 C196.98,301.91 212.22,346.54 213.50,350.90 C214.78,355.26 219.77,380.05 220.50,383.50 C221.23,386.95 226.79,414.69 228.10,420.00 C229.41,425.31 245.59,484.92 246.70,489.80 C247.80,494.69 250.20,515.49 250.20,517.70 C250.20,519.91 247.45,532.32 246.70,534.00 C245.94,535.68 237.31,549.49 235.10,551.40 C232.89,553.31 205.16,570.62 202.60,572.30 C200.04,573.98 184.93,584.46 184.00,585.10 M184.00,585.10 L187.40,595.60 M187.40,595.60 C191.53,596.07 262.37,604.13 270.00,604.90 C277.63,605.67 334.07,610.54 340.00,611.00 C345.93,611.46 386.17,613.85 388.60,614.00 M388.60,614.00 C388.88,614.70 393.74,626.46 394.20,627.90 C394.66,629.34 397.44,640.94 397.90,642.80 C398.36,644.66 403.18,663.34 403.50,665.10 C403.82,666.87 404.58,676.33 404.40,678.10 C404.21,679.87 400.31,698.46 399.80,700.50 C399.29,702.54 394.66,717.33 394.20,719.00 C393.74,720.67 390.64,732.84 390.50,734.00 C390.36,735.16 391.21,741.82 391.40,742.30 C391.58,742.78 393.74,743.53 394.20,743.60 C394.66,743.67 400.38,743.60 400.70,743.60" fill="none" stroke="#0A6CFF" stroke-width="3" stroke-linejoin="round"/>
<polyline points="397.30,618.90 401.00,635.00 405.00,650.00 409.00,665.00 412.50,677.00 418.50,690.00 425.00,699.50 441.00,719.50 459.50,742.00" fill="none" stroke="#7a1a78" stroke-width="2.2" stroke-dasharray="7,4"/>
<circle cx="461.5" cy="743.8" r="4.2" fill="#FF0000"/>
<circle cx="400.7" cy="743.6" r="4.2" fill="#0A6CFF"/>
<line x1="713.50" y1="52" x2="713.50" y2="781.5" stroke="#333" stroke-width="1"/>
<path d="M713.50 52.60L681.20 47.60M681.20 47.60L678.09 37.57M684.31 48.08L681.21 38.05M687.43 48.56L684.32 38.53M690.54 49.05L687.43 39.02M693.65 49.53L692.10 44.51M713.50 92.30L682.00 88.80M682.00 88.80L678.47 78.91M685.13 89.15L681.60 79.26M688.26 89.50L684.73 79.61M691.39 89.84L687.86 79.96M713.50 127.90L681.00 127.20M681.00 127.20L676.60 117.67M684.15 127.27L679.75 117.73M687.30 127.34L682.90 117.80M713.50 161.30L682.80 162.70M682.80 162.70L677.77 153.48M685.95 162.56L680.92 153.34M689.09 162.41L686.58 157.80M713.50 192.30L682.80 194.70M682.80 194.70L677.48 185.65M685.94 194.45L680.62 185.40M689.08 194.21L686.42 189.68M713.50 224.00L682.20 228.40M682.20 228.40L676.33 219.70M685.32 227.96L679.45 219.26M713.50 263.30L683.10 268.80M683.10 268.80L676.89 260.33M686.20 268.24L679.99 259.77M713.50 306.50L683.80 314.90M683.80 314.90L676.80 307.07M686.83 314.04L679.83 306.21M713.50 350.90L684.50 362.80M684.50 362.80L676.66 355.82M687.41 361.60L679.57 354.62M713.50 394.90L685.20 406.70M685.20 406.70L677.32 399.76M688.11 405.49L680.23 398.55M713.50 435.30L685.20 446.50M685.20 446.50L677.45 439.42M688.13 445.34L680.38 438.26M713.50 469.30L685.20 479.80M685.20 479.80L677.60 472.55M688.15 478.70L680.56 471.46M713.50 496.50L685.20 507.70M685.20 507.70L677.45 500.62M688.13 506.54L680.38 499.46M713.50 518.80L685.90 529.30M685.90 529.30L678.24 522.12M688.84 528.18L685.02 524.59M713.50 535.80L685.20 547.80M685.20 547.80L677.28 540.91M688.10 546.57L684.14 543.12M713.50 549.70L685.20 563.00M685.20 563.00L677.02 556.42M688.05 561.66L683.96 558.37M713.50 563.00L685.20 575.50M685.20 575.50L677.18 568.73M688.08 574.23L684.07 570.84M713.50 574.50L686.20 587.00M686.20 587.00L678.09 580.34M689.06 585.69L685.01 582.36M713.50 585.40L684.30 597.00M684.30 597.00L676.54 589.93M687.23 595.84L683.35 592.30M713.50 595.40L685.00 605.30M685.00 605.30L677.56 597.90M687.98 604.27L684.25 600.56M713.50 604.80L685.70 604.30M685.70 604.30L681.27 594.78M713.50 739.00L688.10 723.60M713.50 736.00L690.20 718.70M713.50 733.00L691.40 713.40M713.50 728.00L693.00 707.30M713.50 723.00L694.70 700.80M713.50 717.50L696.30 693.40M713.50 711.00L697.50 686.10M713.50 705.00L699.60 680.00M713.50 697.00L701.40 670.00M701.89 671.10L704.94 667.45M713.50 689.00L701.90 661.60M702.37 662.71L705.49 659.12M713.50 682.30L702.30 655.00M702.76 656.11L705.91 652.56M713.50 676.30L703.30 648.60M703.71 649.73L707.00 646.30M713.50 668.50L703.70 640.70M704.10 641.83L707.43 638.45M713.50 662.50L703.70 634.70M704.10 635.83L707.43 632.45M713.50 655.40L704.70 627.20M705.06 628.35L708.51 625.09M713.50 648.90L704.70 620.70M705.06 621.85L708.51 618.59M713.50 642.50L705.10 614.20M705.44 615.35L708.94 612.14M713.50 636.10L705.60 607.70M705.92 608.86L709.48 605.71M713.50 629.50L706.00 601.00M706.31 602.16L709.90 599.06M713.50 623.00L706.50 594.50M706.79 595.67L710.44 592.62M713.50 617.00L705.50 590.00M705.84 591.15L709.34 587.94M713.50 612.00L699.70 587.20M699.70 587.20L705.71 578.59" fill="none" stroke="#111" stroke-width="1.15"/>
<circle cx="713.3" cy="743" r="5" fill="none" stroke="#111" stroke-width="1.2"/>
<circle cx="713.3" cy="743" r="3.2" fill="none" stroke="#111" stroke-width="1"/>
<text x="713.30" y="66.00" font-size="13.50" fill="#11AA11" text-anchor="middle" font-family="Liberation Sans, sans-serif" font-weight="bold">0</text>
<text x="713.30" y="800.00" font-size="13.50" fill="#11AA11" text-anchor="middle" font-family="Liberation Sans, sans-serif" font-weight="bold">0</text>
<text x="759.50" y="66.00" font-size="13.50" fill="#11AA11" text-anchor="middle" font-family="Liberation Sans, sans-serif" font-weight="bold">20</text>
<text x="759.50" y="800.00" font-size="13.50" fill="#11AA11" text-anchor="middle" font-family="Liberation Sans, sans-serif" font-weight="bold">20</text>
<text x="804.30" y="66.00" font-size="13.50" fill="#11AA11" text-anchor="middle" font-family="Liberation Sans, sans-serif" font-weight="bold">40</text>
<text x="804.30" y="800.00" font-size="13.50" fill="#11AA11" text-anchor="middle" font-family="Liberation Sans, sans-serif" font-weight="bold">40</text>
<text x="850.00" y="66.00" font-size="13.50" fill="#11AA11" text-anchor="middle" font-family="Liberation Sans, sans-serif" font-weight="bold">60</text>
<text x="850.00" y="800.00" font-size="13.50" fill="#11AA11" text-anchor="middle" font-family="Liberation Sans, sans-serif" font-weight="bold">60</text>
<text x="760.00" y="814.00" font-size="12.50" fill="#22B022" stroke="#22B022" stroke-width="0.35" text-anchor="middle" font-family="Liberation Sans, sans-serif" >Speed (kt)</text>
<path d="M817.90,52.40 C814.83,59.67 805.65,81.78 799.50,96.00 C793.35,110.22 785.50,125.70 781.00,137.70 C776.50,149.70 774.67,158.78 772.50,168.00 C770.33,177.22 769.67,183.00 768.00,193.00 C766.33,203.00 763.92,217.17 762.50,228.00 C761.08,238.83 760.50,246.00 759.50,258.00 C758.50,270.00 757.22,284.67 756.50,300.00 C755.78,315.33 755.53,323.83 755.20,350.00 C754.87,376.17 754.87,430.33 754.50,457.00 C754.13,483.67 753.83,494.50 753.00,510.00 C752.17,525.50 751.23,537.02 749.50,550.00 C747.77,562.98 744.82,578.80 742.60,587.90 C740.38,597.00 736.80,598.55 736.20,604.60 C735.60,610.65 740.15,615.37 739.00,624.20 C737.85,633.03 732.08,646.92 729.30,657.60 C726.52,668.28 724.17,678.53 722.30,688.30 C720.43,698.07 719.57,707.25 718.10,716.20 C716.63,725.15 714.27,737.70 713.50,742.00" fill="none" stroke="#33BB33" stroke-width="1.2"/>
<line x1="804.3" y1="52" x2="804.3" y2="800.6" stroke="#000" stroke-width="2"/>
<line x1="804" y1="100.30" x2="813.8" y2="100.30" stroke="#000" stroke-width="1"/>
<text x="834.00" y="106.80" font-size="16.00" fill="#000" stroke="#000" stroke-width="0.35" text-anchor="middle" font-family="Liberation Sans, sans-serif" >32</text>
<line x1="804" y1="148.00" x2="813.8" y2="148.00" stroke="#000" stroke-width="1"/>
<text x="834.00" y="154.50" font-size="16.00" fill="#000" stroke="#000" stroke-width="0.35" text-anchor="middle" font-family="Liberation Sans, sans-serif" >30</text>
<line x1="804" y1="194.70" x2="813.8" y2="194.70" stroke="#000" stroke-width="1"/>
<text x="834.00" y="201.20" font-size="16.00" fill="#000" stroke="#000" stroke-width="0.35" text-anchor="middle" font-family="Liberation Sans, sans-serif" >28</text>
<line x1="804" y1="241.90" x2="813.8" y2="241.90" stroke="#000" stroke-width="1"/>
<text x="834.00" y="248.40" font-size="16.00" fill="#000" stroke="#000" stroke-width="0.35" text-anchor="middle" font-family="Liberation Sans, sans-serif" >26</text>
<line x1="804" y1="286.80" x2="813.8" y2="286.80" stroke="#000" stroke-width="1"/>
<text x="834.00" y="293.30" font-size="16.00" fill="#000" stroke="#000" stroke-width="0.35" text-anchor="middle" font-family="Liberation Sans, sans-serif" >24</text>
<line x1="804" y1="332.00" x2="813.8" y2="332.00" stroke="#000" stroke-width="1"/>
<text x="834.00" y="338.50" font-size="16.00" fill="#000" stroke="#000" stroke-width="0.35" text-anchor="middle" font-family="Liberation Sans, sans-serif" >22</text>
<line x1="804" y1="376.00" x2="813.8" y2="376.00" stroke="#000" stroke-width="1"/>
<text x="834.00" y="382.50" font-size="16.00" fill="#000" stroke="#000" stroke-width="0.35" text-anchor="middle" font-family="Liberation Sans, sans-serif" >20</text>
<line x1="804" y1="419.30" x2="813.8" y2="419.30" stroke="#000" stroke-width="1"/>
<text x="834.00" y="425.80" font-size="16.00" fill="#000" stroke="#000" stroke-width="0.35" text-anchor="middle" font-family="Liberation Sans, sans-serif" >18</text>
<line x1="804" y1="462.40" x2="813.8" y2="462.40" stroke="#000" stroke-width="1"/>
<text x="834.00" y="468.90" font-size="16.00" fill="#000" stroke="#000" stroke-width="0.35" text-anchor="middle" font-family="Liberation Sans, sans-serif" >16</text>
<line x1="804" y1="503.70" x2="813.8" y2="503.70" stroke="#000" stroke-width="1"/>
<text x="834.00" y="510.20" font-size="16.00" fill="#000" stroke="#000" stroke-width="0.35" text-anchor="middle" font-family="Liberation Sans, sans-serif" >14</text>
<line x1="804" y1="545.10" x2="813.8" y2="545.10" stroke="#000" stroke-width="1"/>
<text x="834.00" y="551.60" font-size="16.00" fill="#000" stroke="#000" stroke-width="0.35" text-anchor="middle" font-family="Liberation Sans, sans-serif" >12</text>
<line x1="804" y1="586.10" x2="813.8" y2="586.10" stroke="#000" stroke-width="1"/>
<text x="834.00" y="592.60" font-size="16.00" fill="#000" stroke="#000" stroke-width="0.35" text-anchor="middle" font-family="Liberation Sans, sans-serif" >10</text>
<line x1="804" y1="625.80" x2="813.8" y2="625.80" stroke="#000" stroke-width="1"/>
<text x="834.00" y="632.30" font-size="16.00" fill="#000" stroke="#000" stroke-width="0.35" text-anchor="middle" font-family="Liberation Sans, sans-serif" >8</text>
<line x1="804" y1="665.60" x2="813.8" y2="665.60" stroke="#000" stroke-width="1"/>
<text x="834.00" y="672.10" font-size="16.00" fill="#000" stroke="#000" stroke-width="0.35" text-anchor="middle" font-family="Liberation Sans, sans-serif" >6</text>
<line x1="804" y1="705.30" x2="813.8" y2="705.30" stroke="#000" stroke-width="1"/>
<text x="834.00" y="711.80" font-size="16.00" fill="#000" stroke="#000" stroke-width="0.35" text-anchor="middle" font-family="Liberation Sans, sans-serif" >4</text>
<line x1="804" y1="743.20" x2="813.8" y2="743.20" stroke="#000" stroke-width="1"/>
<text x="834.00" y="749.70" font-size="16.00" fill="#000" stroke="#000" stroke-width="0.35" text-anchor="middle" font-family="Liberation Sans, sans-serif" >2</text>
<line x1="804" y1="781.50" x2="813.8" y2="781.50" stroke="#000" stroke-width="1"/>
<text x="834.00" y="788.00" font-size="16.00" fill="#000" stroke="#000" stroke-width="0.35" text-anchor="middle" font-family="Liberation Sans, sans-serif" >0</text>
<text x="0" y="0" font-size="16.8" fill="#000" stroke="#000" stroke-width="0.35" text-anchor="middle" font-family="Liberation Sans, sans-serif" transform="translate(774,426) rotate(90)">Height (1000 Feet)</text>
<circle cx="62.7" cy="23.4" r="4.5" fill="#000"/>
<text x="73.30" y="30.80" font-size="22.50" fill="#000" stroke="#000" stroke-width="0.35" text-anchor="start" font-family="Liberation Sans, sans-serif" textLength="54.40" lengthAdjust="spacingAndGlyphs" >NZRK</text>
<text x="134.00" y="27.60" font-size="12.00" fill="#000" stroke="#000" stroke-width="0.35" text-anchor="start" font-family="Liberation Sans, sans-serif" textLength="146.00" lengthAdjust="spacingAndGlyphs" >-38.887°,176.364° (54,91)</text>
<text x="299.10" y="30.30" font-size="21.50" fill="#000" stroke="#000" stroke-width="0.35" text-anchor="start" font-family="Liberation Sans, sans-serif" textLength="153.80" lengthAdjust="spacingAndGlyphs" >Valid 1500 NZDT</text>
<text x="461.20" y="29.30" font-size="15.80" fill="#000" stroke="#000" stroke-width="0.35" text-anchor="start" font-family="Liberation Sans, sans-serif" textLength="53.30" lengthAdjust="spacingAndGlyphs" >(0200Z)</text>
<text x="520.70" y="30.60" font-size="21.50" fill="#000" stroke="#000" stroke-width="0.35" text-anchor="start" font-family="Liberation Sans, sans-serif" textLength="150.60" lengthAdjust="spacingAndGlyphs" >SAT 1 Nov 2025</text>
<text x="677.00" y="28.40" font-size="14.60" fill="#000" stroke="#000" stroke-width="0.35" text-anchor="start" font-family="Liberation Sans, sans-serif" textLength="126.10" lengthAdjust="spacingAndGlyphs" >[14hrFcst@1557z]</text>
<text x="289.40" y="48.40" font-size="12.50" fill="#B0003C" stroke="#B0003C" stroke-width="0.35" text-anchor="start" font-family="Liberation Sans, sans-serif" textLength="281.80" lengthAdjust="spacingAndGlyphs" >Plcl=838 Tlcl[C]=2 Shox=5 Pwat[cm]=1 Cape[J]= 37</text>
</svg>
</body></html>
